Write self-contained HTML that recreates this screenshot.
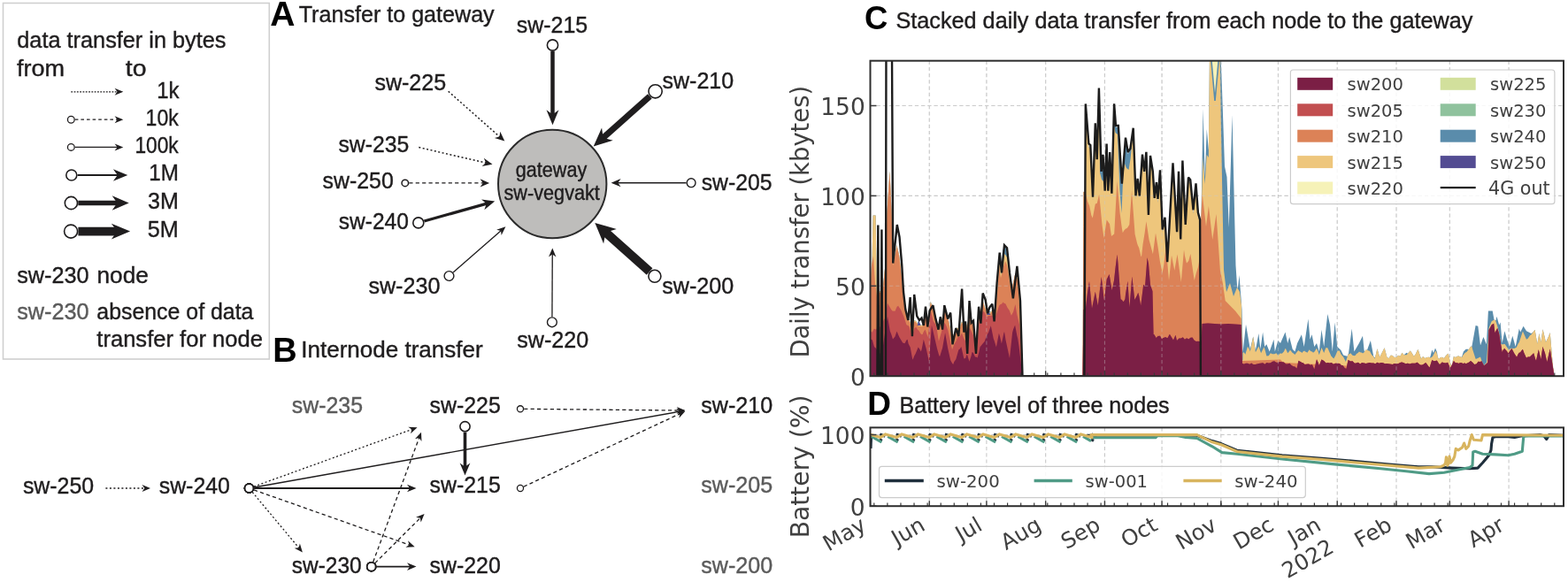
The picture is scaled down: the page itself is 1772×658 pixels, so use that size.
<!DOCTYPE html>
<html><head><meta charset="utf-8"><title>Figure</title>
<style>html,body{margin:0;padding:0;background:#fff;}svg{display:block;}</style>
</head><body>
<svg xmlns="http://www.w3.org/2000/svg" width="1772" height="658" viewBox="0 0 1772 658">
<rect width="1772" height="658" fill="#fff"/>
<rect x="3.5" y="3.5" width="300.8" height="402.5" fill="#fff" stroke="#cfcfcf" stroke-width="1.6"/>
<text x="19.3" y="54" font-size="25.5" fill="#1f1d1e" font-family="'Liberation Sans', Arial, sans-serif" stroke="#1f1d1e" stroke-width="0.4" textLength="236.2" lengthAdjust="spacingAndGlyphs">data transfer in bytes</text>
<text x="19" y="86.4" font-size="25.5" fill="#1f1d1e" font-family="'Liberation Sans', Arial, sans-serif" stroke="#1f1d1e" stroke-width="0.4" textLength="54.1" lengthAdjust="spacingAndGlyphs">from</text>
<text x="141.8" y="86.4" font-size="25.5" fill="#1f1d1e" font-family="'Liberation Sans', Arial, sans-serif" stroke="#1f1d1e" stroke-width="0.4" textLength="23.7" lengthAdjust="spacingAndGlyphs">to</text>
<line x1="80.3" y1="103.8" x2="133.01" y2="103.8" stroke="#1f1d1e" stroke-width="1.3" stroke-dasharray="1.8 1.5"/>
<polygon points="139.3,103.8 129.6,107.8 132.51,103.8 129.6,99.8" fill="#1f1d1e"/>
<text x="202.6" y="111.3" font-size="25.5" fill="#1f1d1e" font-family="'Liberation Sans', Arial, sans-serif" stroke="#1f1d1e" stroke-width="0.4" textLength="25.3" lengthAdjust="spacingAndGlyphs" text-anchor="end">1k</text>
<line x1="84.8" y1="135.2" x2="133.01" y2="135.2" stroke="#1f1d1e" stroke-width="1.3" stroke-dasharray="3.6 3"/>
<polygon points="139.3,135.2 129.6,139.2 132.51,135.2 129.6,131.2" fill="#1f1d1e"/>
<circle cx="80.3" cy="135.2" r="3.85" fill="#fff" stroke="#1f1d1e" stroke-width="1.3"/>
<text x="201.7" y="142.2" font-size="25.5" fill="#1f1d1e" font-family="'Liberation Sans', Arial, sans-serif" stroke="#1f1d1e" stroke-width="0.4" textLength="37.1" lengthAdjust="spacingAndGlyphs" text-anchor="end">10k</text>
<line x1="84.8" y1="166.4" x2="133.01" y2="166.4" stroke="#1f1d1e" stroke-width="1.3"/>
<polygon points="139.3,166.4 129.6,170.4 132.51,166.4 129.6,162.4" fill="#1f1d1e"/>
<circle cx="80.3" cy="166.4" r="3.85" fill="#fff" stroke="#1f1d1e" stroke-width="1.3"/>
<text x="201.7" y="173.4" font-size="25.5" fill="#1f1d1e" font-family="'Liberation Sans', Arial, sans-serif" stroke="#1f1d1e" stroke-width="0.4" textLength="49.3" lengthAdjust="spacingAndGlyphs" text-anchor="end">100k</text>
<line x1="87.6" y1="198" x2="133.32" y2="198" stroke="#1f1d1e" stroke-width="1.8"/>
<polygon points="144.3,198 127.9,204.8 132.82,198 127.9,191.2" fill="#1f1d1e"/>
<circle cx="80.8" cy="198" r="6" fill="#fff" stroke="#1f1d1e" stroke-width="1.6"/>
<text x="201.8" y="204.3" font-size="25.5" fill="#1f1d1e" font-family="'Liberation Sans', Arial, sans-serif" stroke="#1f1d1e" stroke-width="0.4" textLength="33.6" lengthAdjust="spacingAndGlyphs" text-anchor="end">1M</text>
<line x1="88.3" y1="229.5" x2="132.9" y2="229.5" stroke="#1f1d1e" stroke-width="5.5"/>
<polygon points="145.7,229.5 126.7,237.7 132.4,229.5 126.7,221.3" fill="#1f1d1e"/>
<circle cx="80.4" cy="229.5" r="7.1" fill="#fff" stroke="#1f1d1e" stroke-width="1.6"/>
<text x="201.8" y="235.8" font-size="25.5" fill="#1f1d1e" font-family="'Liberation Sans', Arial, sans-serif" stroke="#1f1d1e" stroke-width="0.4" textLength="34.8" lengthAdjust="spacingAndGlyphs" text-anchor="end">3M</text>
<line x1="88.4" y1="261.6" x2="132.76" y2="261.6" stroke="#1f1d1e" stroke-width="9.6"/>
<polygon points="147.1,261.6 125.9,270.5 132.26,261.6 125.9,252.7" fill="#1f1d1e"/>
<circle cx="80.1" cy="261.6" r="7.5" fill="#fff" stroke="#1f1d1e" stroke-width="1.6"/>
<text x="201.8" y="267.6" font-size="25.5" fill="#1f1d1e" font-family="'Liberation Sans', Arial, sans-serif" stroke="#1f1d1e" stroke-width="0.4" textLength="35" lengthAdjust="spacingAndGlyphs" text-anchor="end">5M</text>
<text x="19.2" y="319.8" font-size="25.5" fill="#1f1d1e" font-family="'Liberation Sans', Arial, sans-serif" stroke="#1f1d1e" stroke-width="0.4" textLength="81.4" lengthAdjust="spacingAndGlyphs">sw-230</text>
<text x="109.5" y="319.8" font-size="25.5" fill="#1f1d1e" font-family="'Liberation Sans', Arial, sans-serif" stroke="#1f1d1e" stroke-width="0.4" textLength="58.4" lengthAdjust="spacingAndGlyphs">node</text>
<text x="19.2" y="360.8" font-size="25.5" fill="#5b5b5b" font-family="'Liberation Sans', Arial, sans-serif" stroke="#5b5b5b" stroke-width="0.4" textLength="81.4" lengthAdjust="spacingAndGlyphs">sw-230</text>
<text x="109.3" y="360.8" font-size="25.5" fill="#1f1d1e" font-family="'Liberation Sans', Arial, sans-serif" stroke="#1f1d1e" stroke-width="0.4" textLength="177.1" lengthAdjust="spacingAndGlyphs">absence of data</text>
<text x="109.3" y="392.2" font-size="25.5" fill="#1f1d1e" font-family="'Liberation Sans', Arial, sans-serif" stroke="#1f1d1e" stroke-width="0.4" textLength="187.6" lengthAdjust="spacingAndGlyphs">transfer for node</text>
<text x="305.2" y="29.3" font-size="39" fill="#000" font-family="'Liberation Sans', Arial, sans-serif" font-weight="bold">A</text>
<text x="337.7" y="24.9" font-size="25.5" fill="#1f1d1e" font-family="'Liberation Sans', Arial, sans-serif" stroke="#1f1d1e" stroke-width="0.4" textLength="221" lengthAdjust="spacingAndGlyphs">Transfer to gateway</text>
<circle cx="624.2" cy="208" r="61.2" fill="#bebdbb" stroke="#2b2b2b" stroke-width="2"/>
<text x="623" y="199.6" font-size="23" fill="#1f1d1e" font-family="'Liberation Sans', Arial, sans-serif" stroke="#1f1d1e" stroke-width="0.4" textLength="80.4" lengthAdjust="spacingAndGlyphs" text-anchor="middle">gateway</text>
<text x="623.7" y="226.4" font-size="23" fill="#1f1d1e" font-family="'Liberation Sans', Arial, sans-serif" stroke="#1f1d1e" stroke-width="0.4" textLength="108.4" lengthAdjust="spacingAndGlyphs" text-anchor="middle">sw-vegvakt</text>
<text x="583.8" y="36.5" font-size="25.5" fill="#1f1d1e" font-family="'Liberation Sans', Arial, sans-serif" stroke="#1f1d1e" stroke-width="0.4" textLength="80.4" lengthAdjust="spacingAndGlyphs">sw-215</text>
<text x="748.5" y="100.3" font-size="25.5" fill="#1f1d1e" font-family="'Liberation Sans', Arial, sans-serif" stroke="#1f1d1e" stroke-width="0.4" textLength="80.7" lengthAdjust="spacingAndGlyphs">sw-210</text>
<text x="423.4" y="101.8" font-size="25.5" fill="#1f1d1e" font-family="'Liberation Sans', Arial, sans-serif" stroke="#1f1d1e" stroke-width="0.4" textLength="80.8" lengthAdjust="spacingAndGlyphs">sw-225</text>
<text x="382.4" y="171.7" font-size="25.5" fill="#1f1d1e" font-family="'Liberation Sans', Arial, sans-serif" stroke="#1f1d1e" stroke-width="0.4" textLength="79.8" lengthAdjust="spacingAndGlyphs">sw-235</text>
<text x="364.6" y="213" font-size="25.5" fill="#1f1d1e" font-family="'Liberation Sans', Arial, sans-serif" stroke="#1f1d1e" stroke-width="0.4" textLength="80.2" lengthAdjust="spacingAndGlyphs">sw-250</text>
<text x="382.8" y="259.2" font-size="25.5" fill="#1f1d1e" font-family="'Liberation Sans', Arial, sans-serif" stroke="#1f1d1e" stroke-width="0.4" textLength="79.1" lengthAdjust="spacingAndGlyphs">sw-240</text>
<text x="792.7" y="214.9" font-size="25.5" fill="#1f1d1e" font-family="'Liberation Sans', Arial, sans-serif" stroke="#1f1d1e" stroke-width="0.4" textLength="79.8" lengthAdjust="spacingAndGlyphs">sw-205</text>
<text x="416.4" y="331.8" font-size="25.5" fill="#1f1d1e" font-family="'Liberation Sans', Arial, sans-serif" stroke="#1f1d1e" stroke-width="0.4" textLength="81" lengthAdjust="spacingAndGlyphs">sw-230</text>
<text x="584.3" y="392.7" font-size="25.5" fill="#1f1d1e" font-family="'Liberation Sans', Arial, sans-serif" stroke="#1f1d1e" stroke-width="0.4" textLength="80.9" lengthAdjust="spacingAndGlyphs">sw-220</text>
<text x="748.2" y="331.8" font-size="25.5" fill="#1f1d1e" font-family="'Liberation Sans', Arial, sans-serif" stroke="#1f1d1e" stroke-width="0.4" textLength="81" lengthAdjust="spacingAndGlyphs">sw-200</text>
<line x1="624.5" y1="57.9" x2="624.5" y2="129.9" stroke="#1f1d1e" stroke-width="4.5"/>
<polygon points="624.5,141.3 617.5,124.3 624.5,129.4 631.5,124.3" fill="#1f1d1e"/>
<circle cx="624.5" cy="51" r="6.1" fill="#fff" stroke="#1f1d1e" stroke-width="1.6"/>
<line x1="734.33" y1="108.89" x2="681.3" y2="156.15" stroke="#1f1d1e" stroke-width="7"/>
<polygon points="670.7,165.6 680.06,144.54 681.67,155.82 692.7,158.72" fill="#1f1d1e"/>
<circle cx="740.6" cy="103.3" r="7.6" fill="#fff" stroke="#1f1d1e" stroke-width="1.6"/>
<line x1="506.7" y1="103.3" x2="564.91" y2="154.83" stroke="#1f1d1e" stroke-width="1.5" stroke-dasharray="2 2.5"/>
<polygon points="570.3,159.6 558.88,155.9 564.53,154.5 565.25,148.71" fill="#1f1d1e"/>
<line x1="473.3" y1="166.6" x2="549.48" y2="184.18" stroke="#1f1d1e" stroke-width="1.5" stroke-dasharray="2 2.5"/>
<polygon points="556.5,185.8 544.7,188 549,184.07 546.86,178.65" fill="#1f1d1e"/>
<line x1="462.3" y1="206.9" x2="546.25" y2="206.9" stroke="#1f1d1e" stroke-width="1.4" stroke-dasharray="4.2 3.2"/>
<polygon points="553.1,206.9 542.6,211.5 545.75,206.9 542.6,202.3" fill="#1f1d1e"/>
<circle cx="457.8" cy="206.9" r="3.75" fill="#fff" stroke="#1f1d1e" stroke-width="1.5"/>
<line x1="479.35" y1="250.06" x2="550.25" y2="230.12" stroke="#1f1d1e" stroke-width="3.2"/>
<polygon points="559.2,227.6 547.35,237.17 549.77,230.25 544.1,225.61" fill="#1f1d1e"/>
<circle cx="472.8" cy="251.9" r="6" fill="#fff" stroke="#1f1d1e" stroke-width="1.6"/>
<line x1="775.5" y1="206.7" x2="697.8" y2="206.7" stroke="#1f1d1e" stroke-width="1.6"/>
<polygon points="690.6,206.7 701.6,202.1 698.3,206.7 701.6,211.3" fill="#1f1d1e"/>
<circle cx="781.1" cy="206.7" r="4.9" fill="#fff" stroke="#1f1d1e" stroke-width="1.4"/>
<line x1="512.1" y1="307.99" x2="566.5" y2="260.57" stroke="#1f1d1e" stroke-width="1.3"/>
<polygon points="571.4,256.3 566.62,266.04 566.12,260.9 561.1,259.7" fill="#1f1d1e"/>
<circle cx="507.5" cy="312" r="5.4" fill="#fff" stroke="#1f1d1e" stroke-width="1.4"/>
<line x1="623.93" y1="358.2" x2="624.27" y2="287.1" stroke="#1f1d1e" stroke-width="1.3"/>
<polygon points="624.3,280.6 628.45,290.62 624.27,287.6 620.05,290.58" fill="#1f1d1e"/>
<circle cx="623.9" cy="364.3" r="5.4" fill="#fff" stroke="#1f1d1e" stroke-width="1.4"/>
<line x1="734.08" y1="307.1" x2="683.93" y2="262.29" stroke="#1f1d1e" stroke-width="10"/>
<polygon points="672.3,251.9 696.78,259.02 684.31,262.63 682.12,275.43" fill="#1f1d1e"/>
<circle cx="739.9" cy="312.3" r="7" fill="#fff" stroke="#1f1d1e" stroke-width="1.6"/>
<text x="308.3" y="408.9" font-size="38" fill="#000" font-family="'Liberation Sans', Arial, sans-serif" font-weight="bold">B</text>
<text x="340.3" y="403.5" font-size="25.5" fill="#1f1d1e" font-family="'Liberation Sans', Arial, sans-serif" stroke="#1f1d1e" stroke-width="0.4" textLength="205.4" lengthAdjust="spacingAndGlyphs">Internode transfer</text>
<text x="25.9" y="557.5" font-size="25.5" fill="#1f1d1e" font-family="'Liberation Sans', Arial, sans-serif" stroke="#1f1d1e" stroke-width="0.4" textLength="80.2" lengthAdjust="spacingAndGlyphs">sw-250</text>
<text x="179.7" y="557.5" font-size="25.5" fill="#1f1d1e" font-family="'Liberation Sans', Arial, sans-serif" stroke="#1f1d1e" stroke-width="0.4" textLength="80.2" lengthAdjust="spacingAndGlyphs">sw-240</text>
<text x="329.8" y="467" font-size="25.5" fill="#5b5b5b" font-family="'Liberation Sans', Arial, sans-serif" stroke="#5b5b5b" stroke-width="0.4" textLength="80.2" lengthAdjust="spacingAndGlyphs">sw-235</text>
<text x="329.8" y="647.9" font-size="25.5" fill="#1f1d1e" font-family="'Liberation Sans', Arial, sans-serif" stroke="#1f1d1e" stroke-width="0.4" textLength="78.9" lengthAdjust="spacingAndGlyphs">sw-230</text>
<text x="485.6" y="467" font-size="25.5" fill="#1f1d1e" font-family="'Liberation Sans', Arial, sans-serif" stroke="#1f1d1e" stroke-width="0.4" textLength="80.2" lengthAdjust="spacingAndGlyphs">sw-225</text>
<text x="485.6" y="557.4" font-size="25.5" fill="#1f1d1e" font-family="'Liberation Sans', Arial, sans-serif" stroke="#1f1d1e" stroke-width="0.4" textLength="80.2" lengthAdjust="spacingAndGlyphs">sw-215</text>
<text x="485.6" y="647.8" font-size="25.5" fill="#1f1d1e" font-family="'Liberation Sans', Arial, sans-serif" stroke="#1f1d1e" stroke-width="0.4" textLength="80.2" lengthAdjust="spacingAndGlyphs">sw-220</text>
<text x="792.3" y="467" font-size="25.5" fill="#1f1d1e" font-family="'Liberation Sans', Arial, sans-serif" stroke="#1f1d1e" stroke-width="0.4" textLength="80.9" lengthAdjust="spacingAndGlyphs">sw-210</text>
<text x="792.3" y="557.4" font-size="25.5" fill="#5b5b5b" font-family="'Liberation Sans', Arial, sans-serif" stroke="#5b5b5b" stroke-width="0.4" textLength="80.9" lengthAdjust="spacingAndGlyphs">sw-205</text>
<text x="792.3" y="647.8" font-size="25.5" fill="#5b5b5b" font-family="'Liberation Sans', Arial, sans-serif" stroke="#5b5b5b" stroke-width="0.4" textLength="80.9" lengthAdjust="spacingAndGlyphs">sw-200</text>
<line x1="119.4" y1="552" x2="163.85" y2="552" stroke="#1f1d1e" stroke-width="1.3" stroke-dasharray="2 2.5"/>
<polygon points="170,552 160.5,556 163.35,552 160.5,548" fill="#1f1d1e"/>
<line x1="286.95" y1="550.03" x2="465.82" y2="485.39" stroke="#1f1d1e" stroke-width="1.3" stroke-dasharray="2 2.5"/>
<polygon points="471.6,483.3 464.03,490.29 465.35,485.56 461.31,482.77" fill="#1f1d1e"/>
<circle cx="281.5" cy="552" r="4.9" fill="#fff" stroke="#1f1d1e" stroke-width="1.8"/>
<line x1="287.21" y1="550.98" x2="768.25" y2="465.18" stroke="#1f1d1e" stroke-width="1.4"/>
<polygon points="774.3,464.1 765.65,469.71 767.75,465.27 764.25,461.83" fill="#1f1d1e"/>
<circle cx="281.5" cy="552" r="4.9" fill="#fff" stroke="#1f1d1e" stroke-width="1.8"/>
<line x1="287.3" y1="552" x2="463.65" y2="552" stroke="#1f1d1e" stroke-width="1.8"/>
<polygon points="470.5,552 460,556.3 463.15,552 460,547.7" fill="#1f1d1e"/>
<circle cx="281.5" cy="552" r="4.9" fill="#fff" stroke="#1f1d1e" stroke-width="1.8"/>
<line x1="286.97" y1="553.93" x2="462.9" y2="616.15" stroke="#1f1d1e" stroke-width="1.3" stroke-dasharray="4.2 3.2"/>
<polygon points="468.7,618.2 458.41,618.8 462.43,615.98 461.08,611.26" fill="#1f1d1e"/>
<circle cx="281.5" cy="552" r="4.9" fill="#fff" stroke="#1f1d1e" stroke-width="1.8"/>
<line x1="285.22" y1="556.45" x2="337.96" y2="619.68" stroke="#1f1d1e" stroke-width="1.3" stroke-dasharray="2 2.5"/>
<polygon points="341.9,624.4 332.74,619.67 337.64,619.29 338.89,614.54" fill="#1f1d1e"/>
<circle cx="281.5" cy="552" r="4.9" fill="#fff" stroke="#1f1d1e" stroke-width="1.8"/>
<circle cx="281.5" cy="552" r="4.9" fill="#fff" stroke="#1f1d1e" stroke-width="1.8"/>
<line x1="421.71" y1="635.26" x2="473.86" y2="494.47" stroke="#1f1d1e" stroke-width="1.3" stroke-dasharray="4.2 3.2"/>
<polygon points="476,488.7 476.45,499 473.69,494.94 468.95,496.22" fill="#1f1d1e"/>
<circle cx="419.7" cy="640.7" r="4.9" fill="#fff" stroke="#1f1d1e" stroke-width="1.8"/>
<line x1="423.81" y1="636.61" x2="475.24" y2="585.34" stroke="#1f1d1e" stroke-width="1.3" stroke-dasharray="4.2 3.2"/>
<polygon points="479.6,581 475.69,590.54 474.89,585.69 470.05,584.87" fill="#1f1d1e"/>
<circle cx="419.7" cy="640.7" r="4.9" fill="#fff" stroke="#1f1d1e" stroke-width="1.8"/>
<line x1="425.5" y1="640.69" x2="463.65" y2="640.61" stroke="#1f1d1e" stroke-width="1.8"/>
<polygon points="470.5,640.6 460.01,644.92 463.15,640.61 459.99,636.32" fill="#1f1d1e"/>
<circle cx="419.7" cy="640.7" r="4.9" fill="#fff" stroke="#1f1d1e" stroke-width="1.8"/>
<circle cx="419.7" cy="640.7" r="4.9" fill="#fff" stroke="#1f1d1e" stroke-width="1.8"/>
<line x1="592.2" y1="462.34" x2="768.15" y2="464.04" stroke="#1f1d1e" stroke-width="1.3" stroke-dasharray="4.2 3.2"/>
<polygon points="774.3,464.1 764.76,468.01 767.65,464.04 764.84,460.01" fill="#1f1d1e"/>
<circle cx="588" cy="462.3" r="3.55" fill="#fff" stroke="#1f1d1e" stroke-width="1.3"/>
<line x1="591.81" y1="550.22" x2="768.73" y2="467.6" stroke="#1f1d1e" stroke-width="1.3" stroke-dasharray="4.2 3.2"/>
<polygon points="774.3,465 767.38,472.64 768.27,467.81 764,465.4" fill="#1f1d1e"/>
<circle cx="588" cy="552" r="3.55" fill="#fff" stroke="#1f1d1e" stroke-width="1.3"/>
<line x1="525.5" y1="488.6" x2="525.5" y2="528.2" stroke="#1f1d1e" stroke-width="3.6"/>
<polygon points="525.5,537.5 519.7,523.5 525.5,527.7 531.3,523.5" fill="#1f1d1e"/>
<circle cx="525.5" cy="482.2" r="5.6" fill="#fff" stroke="#1f1d1e" stroke-width="1.6"/>
<defs><clipPath id="clipC"><rect x="983.5" y="68.7" width="783.5" height="356.5"/></clipPath></defs>
<g clip-path="url(#clipC)">
<line x1="1050.27" y1="68.7" x2="1050.27" y2="425.2" stroke="#cdcdcd" stroke-width="1.1" stroke-dasharray="4.2 3"/>
<line x1="1114.89" y1="68.7" x2="1114.89" y2="425.2" stroke="#cdcdcd" stroke-width="1.1" stroke-dasharray="4.2 3"/>
<line x1="1181.67" y1="68.7" x2="1181.67" y2="425.2" stroke="#cdcdcd" stroke-width="1.1" stroke-dasharray="4.2 3"/>
<line x1="1248.44" y1="68.7" x2="1248.44" y2="425.2" stroke="#cdcdcd" stroke-width="1.1" stroke-dasharray="4.2 3"/>
<line x1="1313.06" y1="68.7" x2="1313.06" y2="425.2" stroke="#cdcdcd" stroke-width="1.1" stroke-dasharray="4.2 3"/>
<line x1="1379.84" y1="68.7" x2="1379.84" y2="425.2" stroke="#cdcdcd" stroke-width="1.1" stroke-dasharray="4.2 3"/>
<line x1="1444.46" y1="68.7" x2="1444.46" y2="425.2" stroke="#cdcdcd" stroke-width="1.1" stroke-dasharray="4.2 3"/>
<line x1="1511.23" y1="68.7" x2="1511.23" y2="425.2" stroke="#cdcdcd" stroke-width="1.1" stroke-dasharray="4.2 3"/>
<line x1="1578" y1="68.7" x2="1578" y2="425.2" stroke="#cdcdcd" stroke-width="1.1" stroke-dasharray="4.2 3"/>
<line x1="1638.32" y1="68.7" x2="1638.32" y2="425.2" stroke="#cdcdcd" stroke-width="1.1" stroke-dasharray="4.2 3"/>
<line x1="1705.09" y1="68.7" x2="1705.09" y2="425.2" stroke="#cdcdcd" stroke-width="1.1" stroke-dasharray="4.2 3"/>
<line x1="983.5" y1="323.3" x2="1767.0" y2="323.3" stroke="#cdcdcd" stroke-width="1.1" stroke-dasharray="4.2 3"/>
<line x1="983.5" y1="221.4" x2="1767.0" y2="221.4" stroke="#cdcdcd" stroke-width="1.1" stroke-dasharray="4.2 3"/>
<line x1="983.5" y1="119.5" x2="1767.0" y2="119.5" stroke="#cdcdcd" stroke-width="1.1" stroke-dasharray="4.2 3"/>
<path d="M983.5,425.2 L983.5,329.89 L985,299.7 L985.5,297.14 L986.6,243.6 L989.6,243.6 L991,333.36 L992.12,330.62 L995,328.91 L996.42,327.33 L998,322.9 L1000.5,298.51 L1002.5,238.82 L1005.5,193.34 L1007.5,238.28 L1009.5,299.06 L1013.4,277.08 L1016,287.49 L1018.5,307.62 L1021.3,337.98 L1024,354.52 L1024.43,355.65 L1026.58,359.08 L1028.73,364.42 L1030.4,367.42 L1030.89,366.17 L1033.04,362.96 L1033.4,361.92 L1035.2,363.08 L1036.5,365.15 L1037,365 L1038,362 L1040,366.8 L1040.5,367.29 L1041.66,367.81 L1042.6,367.78 L1045.6,354.43 L1048.6,366.76 L1051.7,340.77 L1056.74,355.02 L1058.89,364.2 L1060.8,369.64 L1063.2,363.97 L1063.8,363.44 L1067.6,348.41 L1069.66,353.03 L1071.4,359.04 L1076,381.47 L1078.28,377.21 L1080.5,370.41 L1083.6,371.18 L1084.74,369.61 L1086.9,363.61 L1089.05,366.53 L1091.2,370.25 L1093.35,365.41 L1095.7,357.07 L1097.66,361.52 L1100.3,368.78 L1103.3,394.84 L1106.4,356.24 L1108.43,350.15 L1110.9,340.49 L1112.74,346.54 L1115,351.28 L1115.5,351 L1116,350 L1119,352 L1119.5,352.72 L1120,351.87 L1121.36,350.76 L1123.51,353.19 L1124,354.94 L1124.6,355.2 L1127,328 L1129.7,292 L1131,303.3 L1131.5,305 L1133,284 L1135,278.5 L1137,281 L1139.5,295 L1140,304 L1143,326.36 L1143.5,326.67 L1147.4,308.72 L1148,310.83 L1148.5,309.25 L1149.4,304 L1152,330 L1154,360 L1154.5,401.27 L1155.5,425.2 L1223.5,425.2 L1224.5,216.52 L1224.75,217.08 L1226.3,217.03 L1226.9,122.65 L1230.5,166.58 L1232,167.76 L1232.5,172.35 L1235,226.7 L1237.8,143.2 L1239.5,179.97 L1239.83,179.53 L1241.98,106.4 L1244.5,192.5 L1244.7,194.99 L1246.5,176.8 L1247.7,199.16 L1248.5,195 L1249,211.38 L1250.6,166.5 L1252,210.39 L1252.5,215.19 L1254,180.61 L1254.5,182.35 L1256,214.13 L1256.5,218.85 L1258.5,140 L1259.2,120.69 L1259.5,122 L1261,143 L1261.37,144 L1263.52,144 L1264,147.2 L1267.83,208.48 L1268,208.33 L1270.5,176.62 L1271,165 L1271.4,165.21 L1272,157.6 L1274.7,174 L1277.4,170 L1279,158.7 L1279.3,158.58 L1280.5,150.11 L1280.75,150.07 L1283.5,225.3 L1285.5,206.92 L1285.8,207.75 L1287.5,222.67 L1288,222.38 L1291,178.6 L1293,196.05 L1293.5,194.81 L1295.4,175.9 L1297.98,244.45 L1300,180 L1302.9,199.38 L1304.5,224.73 L1305,225.46 L1306.6,212.44 L1307,211.19 L1308.5,229 L1311,196.4 L1313.5,258.44 L1314,261.93 L1316.5,249.7 L1318.5,287.18 L1319,293.73 L1319.5,294.99 L1325.5,188.2 L1330,264.41 L1332,197.8 L1334,267.44 L1334.5,262.28 L1336.5,187.69 L1339.5,253.51 L1340,253.05 L1343,204.6 L1345,207.05 L1345.37,209.06 L1348.5,241.5 L1351.5,211.4 L1353.99,244.64 L1356,252.13 L1356.5,272.81 L1357.5,240.61 L1359.6,122.8 L1361.7,200 L1363.8,146 L1365.8,169.64 L1365.9,168.14 L1367.2,40 L1378.5,40 L1381,100 L1384,188 L1386.5,200 L1388.8,257 L1392.5,130 L1396.5,300 L1398,322.5 L1398.5,325.83 L1399,325.25 L1400.5,311 L1403.5,350 L1404.6,398 L1408,366.7 L1412.8,394.7 L1416.2,380.43 L1418.9,396.1 L1422.4,376.9 L1424.4,394.7 L1427.1,375.6 L1429.2,392 L1431.3,389.2 L1434.7,397.5 L1439.5,383.8 L1440.8,397.5 L1444.2,385.1 L1447,387.9 L1452.5,375.6 L1455.2,387.9 L1457.2,381 L1460.7,394.7 L1463.4,397.5 L1466.1,387.9 L1470.9,378.3 L1473.7,392 L1478.4,360.5 L1480.5,383.8 L1482.6,378.3 L1485.3,392 L1488,387.9 L1490.8,397.5 L1493.5,372.8 L1496.2,392 L1500.3,355 L1503.1,367.4 L1505.8,397.5 L1508.5,364.6 L1511.3,392 L1515.4,396.1 L1518.1,401.6 L1522.5,402.64 L1523,402.04 L1523.6,400.14 L1524,399.84 L1527.7,371.5 L1530.4,397.5 L1535.9,387.9 L1540,379.7 L1541.5,395.34 L1542,397.73 L1543.54,395.55 L1545,395.71 L1548.9,385.1 L1552.3,402.9 L1554,404.42 L1556.4,394.36 L1559.2,403.87 L1564.6,393.26 L1567.4,403.85 L1569.39,405.22 L1571.54,401.79 L1572.8,401.7 L1573.7,402.1 L1575.85,404.11 L1578.3,403.78 L1580.16,401.79 L1582.31,402.81 L1584.47,398.83 L1586.62,401.16 L1589.6,398.8 L1590.93,399.77 L1593.7,396.49 L1595.24,398.45 L1597.8,402.81 L1599.54,400.73 L1601.7,396.14 L1602.6,395.01 L1606,405.51 L1608.16,402.98 L1610.31,404.96 L1612.47,403.99 L1614.62,403.75 L1616,404.12 L1616.5,403 L1618.3,395.4 L1620,399 L1622,393.5 L1624,398 L1624.5,402.02 L1625.39,404.95 L1626.5,405.79 L1627.55,404.21 L1629.7,403.63 L1631.85,405.04 L1634.01,401.98 L1636.16,400.07 L1636.8,399.87 L1640,414.18 L1640.5,413.39 L1641,411.46 L1642.9,402.64 L1644.78,403.96 L1646.93,402.77 L1648.4,402.56 L1651.24,403.76 L1652,403.56 L1653.9,397.5 L1656.6,394.7 L1659.3,394.7 L1659.5,394.99 L1659.86,394.95 L1662.01,391.63 L1663,391.77 L1663.4,391.52 L1667.6,368 L1670.3,368.7 L1673,390.6 L1676.4,381 L1679.9,389.2 L1681.9,351.6 L1686.7,351.6 L1688.5,361.41 L1690.5,362.37 L1691.5,357.8 L1694.2,367.4 L1695.6,364.6 L1697.6,387.9 L1700.4,374.2 L1703.1,383.8 L1705.9,392 L1709.3,379.7 L1712.7,392 L1716.8,371.5 L1718.2,375.6 L1721.6,368.7 L1725,374.2 L1730.5,376.9 L1732.5,375.49 L1734.6,372.75 L1737.3,388.66 L1739.4,377.09 L1741.4,387.09 L1743.5,372.29 L1746.02,382.44 L1746.9,386.9 L1750.32,379.65 L1751.7,376.04 L1754.63,410.11 L1755.8,420.75 L1756.5,425.2 L1758.94,425.2 L1758.94,425.2 Z" fill="#5a8cab"/>
<path d="M983.5,425.2 L983.5,329.89 L985,299.7 L985.5,297.14 L986.6,243.6 L989.6,243.6 L991,333.36 L992.12,330.62 L995,328.91 L996.42,327.33 L998,322.9 L1000.5,298.51 L1002.5,238.82 L1005.5,193.34 L1007.5,238.28 L1009.5,299.06 L1013.4,277.08 L1016,287.49 L1018.5,307.62 L1021.3,337.98 L1024,354.52 L1024.43,355.65 L1026.58,359.08 L1028.73,364.42 L1030.4,367.42 L1030.89,366.17 L1033.04,362.96 L1033.4,361.92 L1035.2,363.08 L1038,367.22 L1039.5,367.27 L1040,367.06 L1041.66,367.81 L1042.6,367.78 L1045.6,354.43 L1048.6,366.76 L1051.7,340.77 L1056.74,355.02 L1058.89,364.2 L1060.8,369.64 L1063.2,363.97 L1063.8,363.44 L1067.6,348.41 L1069.66,353.03 L1071.4,359.04 L1076,381.47 L1078.28,377.21 L1080.5,370.41 L1083.6,371.18 L1084.74,369.61 L1086.9,363.61 L1089.05,366.53 L1091.2,370.25 L1093.35,365.41 L1095.7,357.07 L1097.66,361.52 L1100.3,368.78 L1103.3,394.84 L1106.4,356.24 L1108.43,350.15 L1110.9,340.49 L1112.74,346.54 L1114.89,350.93 L1115.5,352.89 L1119.2,353.23 L1120,351.87 L1121.36,350.76 L1123.51,353.19 L1124,354.94 L1124.6,355.2 L1127,328 L1129.7,292 L1131.9,310.59 L1133.5,292 L1135,287 L1137,289 L1138.5,292 L1143,326.36 L1143.5,326.67 L1147.4,308.72 L1148,310.83 L1148.5,309.25 L1149.4,304 L1152,330 L1154,360 L1154.5,401.27 L1155.5,425.2 L1223.5,425.2 L1224.5,216.52 L1224.75,217.08 L1226.3,217.03 L1226.9,122.65 L1230.5,166.58 L1232,167.76 L1232.5,172.35 L1235,226.7 L1237.8,143.2 L1239.5,179.97 L1239.83,179.53 L1241.98,106.4 L1242.5,124.58 L1243,195 L1245,203 L1247,205 L1248.5,195 L1249,211.38 L1250.6,166.5 L1252,210.39 L1252.5,215.19 L1254,180.61 L1254.5,182.35 L1256,214.13 L1256.5,218.85 L1258.5,140 L1260.5,150 L1263,152 L1265.5,215 L1267.5,241 L1269.2,200 L1271,185 L1273,190 L1275.5,192 L1277.5,180 L1279,165 L1279.3,158.58 L1280.5,150.11 L1280.75,150.07 L1283.5,225.3 L1285.5,206.92 L1285.8,207.75 L1287.5,222.67 L1288,222.38 L1291,178.6 L1293,196.05 L1293.5,194.81 L1295.4,175.9 L1297.98,244.45 L1300,180 L1302.9,199.38 L1304.5,224.73 L1305,225.46 L1306.6,212.44 L1307,211.19 L1308.5,229 L1311,196.4 L1313.5,258.44 L1314,261.93 L1316.5,249.7 L1318.5,287.18 L1319,293.73 L1319.5,294.99 L1325.5,188.2 L1330,264.41 L1332,197.8 L1334,267.44 L1334.5,262.28 L1336.5,187.69 L1339.5,253.51 L1340,253.05 L1343,204.6 L1345,207.05 L1345.37,209.06 L1348.5,241.5 L1351.5,211.4 L1353.99,244.64 L1356,252.13 L1356.5,272.81 L1359.5,178 L1361.6,208 L1363.7,175 L1365.8,178 L1367.2,40 L1378.3,40 L1380,150 L1383,305 L1386,330 L1390,320 L1394,335 L1398,325 L1401,330 L1403,345 L1404,408 L1404.5,406.48 L1404.6,398.8 L1405,399.01 L1405.68,397.97 L1407.3,400.69 L1410,391.67 L1412.15,395.35 L1412.8,397.55 L1416.2,380.43 L1418.9,398.21 L1422.4,391.55 L1425.1,399.2 L1428.5,392.2 L1429.38,394.68 L1431.3,402.29 L1431.53,402.46 L1433.69,402.28 L1435.84,399.35 L1438,400.3 L1440.15,400.28 L1442.3,399.32 L1444.2,401.69 L1444.46,401.64 L1446.61,399.61 L1448.76,399.72 L1449.7,398.87 L1450.92,397.46 L1452.5,393.88 L1453.07,394.32 L1455.2,399.24 L1457.38,396.87 L1457.9,395.6 L1460.7,398.95 L1461.69,399.39 L1463.4,401 L1466,397.56 L1467.5,395.97 L1468.15,397.03 L1470.3,397.91 L1471.6,399.11 L1472.46,397.45 L1474.3,396.42 L1474.61,397.17 L1476.77,398.28 L1477.1,399.02 L1479.8,395.29 L1481.07,397.12 L1483.23,397.8 L1483.9,398.67 L1485.38,397.64 L1488,393.64 L1489.69,397.77 L1490.8,401.24 L1493.5,392.98 L1496.2,399.03 L1498.31,393.17 L1500.3,393.14 L1504.4,402.51 L1507.2,405.45 L1509.08,402.19 L1511.3,396.99 L1513.38,396.37 L1514,397.02 L1515.54,400.7 L1518.1,403.5 L1520.9,408.93 L1523.6,400.14 L1524.15,400.64 L1526.31,399.16 L1528.46,401.79 L1530.62,402.33 L1531.8,401.79 L1532.77,400.13 L1534.92,398.67 L1535.9,397.54 L1537.08,398.14 L1539.23,398.72 L1540,399.49 L1541.39,398.59 L1543.54,395.55 L1545.5,395.86 L1545.69,396.33 L1547.85,396.85 L1550,401.03 L1552.16,402.99 L1553.7,405.45 L1556.4,394.36 L1559.2,403.87 L1564.6,393.26 L1567.4,403.85 L1569.39,405.22 L1571.54,401.79 L1572.8,401.7 L1573.7,402.1 L1575.85,404.11 L1578.3,403.78 L1580.16,401.79 L1582.31,402.81 L1584.47,398.83 L1586.62,401.16 L1589.6,401.27 L1593.7,396.49 L1595.24,398.45 L1597.8,402.81 L1599.54,400.73 L1601.7,396.14 L1602.6,395.01 L1606,405.51 L1608.16,402.98 L1610.31,404.96 L1612.47,403.99 L1614.62,403.75 L1616.9,404.41 L1618.93,403.04 L1622.4,396.57 L1623.24,397.88 L1625.39,404.95 L1626.5,405.79 L1627.55,404.21 L1629.7,403.63 L1631.85,405.04 L1634.01,401.98 L1636.16,400.07 L1636.8,399.87 L1640,414.18 L1640.5,413.39 L1641,411.46 L1642.9,402.64 L1644.78,403.96 L1646.93,402.77 L1648.4,402.56 L1651.24,403.76 L1652.5,403.43 L1653.39,401.55 L1655.55,399.12 L1657.7,397.69 L1659.3,395.31 L1659.86,394.95 L1662.01,391.63 L1663.4,391.83 L1664.16,394.91 L1667.6,405.81 L1668.47,405.72 L1673,403.44 L1674.93,409.49 L1677.1,413.54 L1679.24,410.33 L1679.9,410.76 L1682.6,370.67 L1685.7,363.33 L1687.86,361.91 L1688.1,361.21 L1690.01,362.17 L1692.2,368.45 L1694.32,377.48 L1696.3,389.09 L1696.5,389.3 L1698.63,389.36 L1700.4,388.96 L1700.78,389.13 L1705.09,395.45 L1705.9,395.28 L1707.24,393.65 L1711.3,393.99 L1713.71,392.74 L1715.86,388.25 L1716.8,387.09 L1720.9,374.53 L1725,383.64 L1726.63,382.75 L1728.78,379.48 L1730.5,378.13 L1734.6,372.75 L1737.3,388.66 L1739.4,377.09 L1741.4,387.09 L1743.5,372.29 L1746.02,382.44 L1746.9,386.9 L1750.32,379.65 L1751.7,376.04 L1754.63,410.11 L1755.8,420.75 L1756.5,425.2 L1758.94,425.2 L1758.94,425.2 Z" fill="#eec67c"/>
<path d="M983.5,425.2 L983.5,329.89 L985,299.7 L987,289.18 L989,320.12 L991,334.86 L992.12,332.12 L995,330.41 L996.42,328.83 L998,324.4 L1000.5,300.01 L1002.5,240.32 L1005.5,194.84 L1007.5,239.78 L1009.5,300.56 L1013.4,278.58 L1016,288.99 L1018.5,309.12 L1021.3,339.48 L1024,356.02 L1024.43,357.15 L1026.58,360.58 L1028.73,365.92 L1030.4,368.92 L1030.89,367.67 L1033.04,364.46 L1033.4,363.42 L1035.2,364.58 L1038,368.72 L1039.5,368.77 L1040,368.56 L1041.66,369.31 L1042.6,369.28 L1045.6,355.93 L1048.6,368.26 L1051.7,342.27 L1056.74,356.52 L1058.89,365.7 L1060.8,371.14 L1063.2,365.47 L1063.8,364.94 L1067.6,349.91 L1069.66,354.53 L1071.4,360.54 L1076,382.97 L1078.28,378.71 L1080.5,371.91 L1083.6,372.68 L1084.74,371.11 L1086.9,365.11 L1089.05,368.03 L1091.2,371.75 L1093.35,366.91 L1095.7,358.57 L1097.66,363.02 L1100.3,370.28 L1103.3,396.34 L1106.4,357.74 L1108.43,351.65 L1110.59,342.82 L1110.9,341.99 L1112.74,348.04 L1114.89,352.43 L1115.5,354.39 L1119.2,354.73 L1120,353.37 L1121.36,352.26 L1123.51,354.69 L1124.6,355.24 L1127,332.47 L1129.2,302.18 L1131,314.35 L1133.7,301.49 L1134.28,300.49 L1136,295.39 L1136.43,295.62 L1138.3,300.38 L1140.74,316.95 L1142.9,329.21 L1145.05,320.13 L1147.4,308.72 L1150,317.87 L1152,345.47 L1155.5,425.2 L1223.5,425.2 L1224.5,216.52 L1224.75,217.08 L1226.3,217.03 L1226.9,218.49 L1229.06,227.69 L1231.21,232.8 L1233.36,243.55 L1234.8,246.57 L1237.67,231.28 L1238,230.46 L1239.83,229.71 L1241.98,220.22 L1242.2,220.06 L1245.4,253.35 L1247.5,269.36 L1250.7,248.57 L1254,253.23 L1256,267 L1259.2,264.55 L1262.4,204.86 L1265.6,240.74 L1267.83,257.79 L1268.8,263.35 L1269.98,260.95 L1272.14,258.44 L1273,258.47 L1274.29,257.3 L1276.3,253.93 L1279,215.19 L1282.6,264.84 L1285.06,275.01 L1285.8,277.27 L1287.21,280.32 L1289.37,289.41 L1290,290.28 L1291.52,276.38 L1293.68,262.95 L1295.4,250.3 L1298.6,271.35 L1302.9,287.32 L1306,263.48 L1308.75,280.42 L1310.91,295.83 L1313.06,305.9 L1313.5,309.23 L1315.22,299.83 L1317.7,279.35 L1321,317.12 L1324,288.82 L1327.3,305.77 L1330.5,287.51 L1334.8,319.04 L1338,282.25 L1338.91,288.9 L1341,297.78 L1341.06,297.45 L1343.22,294.9 L1345.4,286.92 L1349.7,317.12 L1351.83,308.76 L1353.99,302.08 L1356,290.11 L1357.2,250 L1358.7,219 L1363,256 L1365.9,233 L1370.2,271 L1374.5,242 L1378.9,305.5 L1381.8,320 L1384.7,340 L1396.2,351.7 L1402.6,360 L1404,408 L1447,406.5 L1449.5,409.34 L1450.92,409.56 L1451.5,410.07 L1466.5,410.82 L1467,409.8 L1467.5,407.68 L1468.15,408.35 L1470.3,409.21 L1471.6,410.13 L1472.46,410.09 L1473.5,411.17 L1486.5,411.81 L1488,406.13 L1490.5,412.01 L1491,412.03 L1491.5,411.55 L1493.5,406.52 L1496.15,408.12 L1498.31,410.25 L1499,410.46 L1500.46,410.05 L1502.61,410.52 L1504.77,410.01 L1506.92,411.84 L1509.08,410.73 L1513.38,410.77 L1514,410.89 L1515.54,412.64 L1518,413.37 L1522,413.57 L1523.6,407.05 L1526.31,408.41 L1528.46,408.37 L1530.62,410.38 L1531.8,410.66 L1534.92,409.87 L1537.08,411.52 L1539.23,410.04 L1543.54,411.06 L1547.85,410.12 L1550,410.54 L1552.16,410.62 L1554.31,411.13 L1556.46,409.64 L1558.62,410.63 L1560.77,410.02 L1562.93,410.18 L1565.08,411.37 L1567.23,410.89 L1573.7,411.96 L1575.85,410.96 L1578,411.35 L1580,411.13 L1582.31,410 L1584.1,409.46 L1586.62,410.22 L1588.2,411.13 L1590.93,410.75 L1593.08,411.54 L1595.24,410.78 L1599.54,410.87 L1600.5,410.11 L1601.7,409.86 L1604.6,412.22 L1606.01,412.63 L1608.16,412.19 L1610.31,410.43 L1611.5,410.28 L1614.62,414.62 L1615.6,415.4 L1618.3,407.02 L1618.93,407.46 L1621,408.18 L1623.24,407.79 L1623.8,407.44 L1626.5,411.85 L1627.55,411.72 L1629.7,409.58 L1631.85,410.31 L1634,410.49 L1636.1,409.75 L1638.8,416.08 L1640.47,413.46 L1642.9,407.99 L1644.78,410.32 L1646.93,410.16 L1648.4,411.01 L1649.09,410.56 L1651.1,410.11 L1653.39,410.96 L1655.55,410.54 L1656.6,411.35 L1659.86,409.82 L1662.1,408.03 L1664.16,409.79 L1666.2,412.09 L1668.47,411.49 L1670.63,408.63 L1672.78,409.07 L1674.4,408.33 L1677.1,413.54 L1681.2,410.01 L1682.6,372.94 L1685.7,367.22 L1687.86,366.02 L1688.1,365.62 L1689.4,376.36 L1692.2,371.11 L1694.2,377.54 L1697.6,398.02 L1698.63,395.8 L1700.4,393.73 L1700.78,394.64 L1702.94,397.11 L1704.5,399.47 L1707.24,395.48 L1708.6,393.91 L1709.4,395.89 L1711.55,399.95 L1714.1,403.72 L1715.86,399.94 L1716.8,398.77 L1718.01,398.51 L1720.17,395.59 L1720.9,394.95 L1722.32,398.95 L1725,404.78 L1726.63,403.61 L1728.78,403.53 L1733.2,399.35 L1735.25,406.14 L1736,407.73 L1738.7,395.22 L1741.4,406.31 L1743.5,391.8 L1743.86,393.36 L1746.02,399.33 L1748.3,409.14 L1751.7,394.44 L1756.5,425.2 L1758.94,425.2 L1758.94,425.2 Z" fill="#dc8257"/>
<path d="M983.5,425.2 L983.5,373.91 L985.65,375.85 L987.81,371.52 L989.96,372.84 L992.12,369.49 L994.27,369.28 L995,370.01 L996.42,369.15 L998.58,361.68 L1000,359.98 L1003,342.84 L1007.19,349.9 L1009.1,351.91 L1009.35,351.51 L1011.5,351.84 L1013.66,346.8 L1015.2,345.77 L1015.81,347.03 L1017.96,350.01 L1021.3,357.38 L1024.43,367.24 L1026.58,368.31 L1027.4,369.11 L1028.73,373.33 L1030.4,379.9 L1030.89,378.24 L1033.04,373.28 L1033.4,371.35 L1035.2,369.64 L1037.35,373.16 L1038,373.19 L1039.5,375.51 L1040,376.77 L1041.66,378.28 L1042.6,378.08 L1043.81,374.93 L1045.6,372.53 L1048.6,381.13 L1051.7,351.27 L1054.7,363.23 L1056.74,365.9 L1058,368.39 L1058.89,372.71 L1060.8,385.38 L1061.04,385.14 L1063.8,375.63 L1065.35,369.47 L1067.6,364.72 L1069.66,368.74 L1071.4,373.8 L1076,395.28 L1078.28,389.35 L1080.43,385.7 L1082.58,380.53 L1084.74,381.02 L1086.89,376.4 L1089.05,382.26 L1091.2,385.81 L1093.35,379.15 L1095.7,370.25 L1100.3,379.75 L1103.3,401.54 L1106.4,365.94 L1108.43,357.07 L1110.59,352.71 L1110.9,351.38 L1112.74,353.23 L1114.89,357.74 L1115.5,358.26 L1117.05,356.88 L1119.2,356.98 L1120,356.63 L1121.36,356.64 L1123.51,358.9 L1124.6,359.22 L1129.2,345.57 L1129.97,344.48 L1132.13,343.43 L1133.7,341.5 L1134.28,342.57 L1136.43,343.45 L1138.59,348.09 L1140.74,350.91 L1142.9,356.66 L1145.05,352.64 L1147.4,344.01 L1149.36,355.86 L1152,366.94 L1155.5,425.2 L1223.5,425.2 L1224.5,350.18 L1227,347.6 L1229,330.87 L1231,318.07 L1234,348.82 L1237.8,329.85 L1240.8,345.57 L1244.7,313.11 L1246.29,325.8 L1247.7,339.76 L1248.44,335.24 L1250.7,315.81 L1253.6,310.12 L1256.6,328.36 L1259,317.11 L1260.6,302.27 L1262.5,287.63 L1263.5,297.5 L1266.5,338.16 L1267.83,338.93 L1269.4,340.96 L1269.98,340.74 L1271.4,338.21 L1272.14,331.72 L1274.4,317.81 L1276.4,347.6 L1279.3,312.41 L1282.3,339.1 L1285.06,333.66 L1286.2,330.68 L1287.21,334.16 L1289.2,345.46 L1292.2,321.64 L1293.68,323.12 L1294,323.84 L1296.5,291.3 L1298,297.93 L1300,322.01 L1302.5,329.18 L1303.6,377.98 L1304.45,378.18 L1306.6,381.94 L1308.75,379.69 L1310,379.91 L1310.91,379.39 L1313.06,383.49 L1314,382.33 L1317.37,380.92 L1318,381.81 L1319.52,382.07 L1321.68,377.88 L1322,378.01 L1325.99,384.39 L1328.5,378.68 L1330,385.1 L1332.45,382.4 L1334.6,382.57 L1336.76,381.21 L1338.91,383.87 L1341.06,382.32 L1342,382.7 L1343.22,383.6 L1345.37,381.71 L1347.5,381.54 L1349.68,384.84 L1351.83,386.06 L1353.99,385.76 L1356.5,386.25 L1357,384.86 L1357.5,385 L1358.5,366 L1365,365.5 L1380,366.5 L1388,366 L1402.6,367 L1404,411 L1405,411.06 L1405.5,411.76 L1407.84,410.7 L1410,410.84 L1412.15,411.66 L1414.3,410.6 L1415.5,411.59 L1416.45,411.97 L1418.61,412.12 L1422.4,411.07 L1427.22,410.22 L1429.38,411.69 L1431.53,410.09 L1433.69,410.52 L1435.84,410.36 L1437.99,408.63 L1440.1,408.18 L1442.3,409.83 L1444.46,409.78 L1446.61,408.99 L1450.92,409.56 L1453.07,411.51 L1455.23,411.59 L1457.38,410.64 L1459.53,413.02 L1461.69,414.25 L1463.4,414.39 L1465.5,416.43 L1467.5,407.68 L1468.15,408.35 L1470.3,409.21 L1471.6,410.13 L1472.46,410.09 L1474.61,412.33 L1476.77,411.76 L1478.92,411.62 L1481.07,412.65 L1482.6,411.97 L1483.23,412.78 L1485.3,417.38 L1488,406.13 L1489.69,410.01 L1490.8,413.31 L1493.5,406.52 L1496.15,408.12 L1498.31,410.25 L1499,410.46 L1500.46,410.05 L1502.61,410.52 L1504.77,410.01 L1506.92,411.84 L1509.08,410.73 L1514,410.89 L1515.54,412.64 L1517.69,413.33 L1519.85,416.18 L1521.5,416.82 L1523.6,407.05 L1526.31,408.41 L1528.46,408.37 L1530.62,410.38 L1531.8,410.66 L1534.92,409.87 L1537.08,411.52 L1539.23,410.04 L1543.54,411.06 L1547.85,410.12 L1550,410.54 L1552.16,410.62 L1554.31,411.13 L1556.46,409.64 L1558.62,410.63 L1560.77,410.02 L1562.93,410.18 L1565.08,411.37 L1567.23,410.89 L1573.7,411.96 L1575.85,410.96 L1578,411.35 L1580,411.13 L1582.31,410 L1584.1,409.46 L1586.62,410.22 L1588.2,411.13 L1590.93,410.75 L1593.08,411.54 L1595.24,410.78 L1599.54,410.87 L1600.5,410.11 L1601.7,409.86 L1604.6,412.22 L1606.01,412.63 L1608.16,412.19 L1610.31,410.43 L1611.5,410.28 L1614.62,414.62 L1615.6,415.4 L1618.3,407.02 L1618.93,407.46 L1621,408.18 L1623.24,407.79 L1623.8,407.44 L1626.5,411.85 L1627.55,411.72 L1629.7,409.58 L1631.85,410.31 L1634,410.49 L1636.1,409.75 L1638.8,416.08 L1640.47,413.46 L1642.9,407.99 L1644.78,410.32 L1646.93,410.16 L1648.4,411.01 L1649.09,410.56 L1651.1,410.11 L1653.39,410.96 L1655.55,410.54 L1656.6,411.35 L1659.86,409.82 L1662.1,408.03 L1664.16,409.79 L1666.2,412.09 L1668.47,411.49 L1670.63,408.63 L1672.78,409.07 L1674.4,408.33 L1677.1,413.54 L1681.2,410.01 L1682.6,372.94 L1685.7,367.22 L1687.86,366.02 L1688.1,365.62 L1689.4,376.36 L1692.2,371.11 L1694.2,377.54 L1697.6,398.02 L1698.63,395.8 L1700.4,393.73 L1700.78,394.64 L1702.94,397.11 L1704.5,399.47 L1707.24,395.48 L1708.6,393.91 L1709.4,395.89 L1711.55,399.95 L1714.1,403.72 L1715.86,399.94 L1716.8,398.77 L1718.01,398.51 L1720.17,395.59 L1720.9,394.95 L1722.32,398.95 L1725,404.78 L1726.63,403.61 L1728.78,403.53 L1733.2,399.35 L1735.25,406.14 L1736,407.73 L1738.7,395.22 L1741.4,406.31 L1743.5,391.8 L1743.86,393.36 L1746.02,399.33 L1748.3,409.14 L1751.7,394.44 L1756.5,425.2 L1758.94,425.2 L1758.94,425.2 Z" fill="#c24f50"/>
<path d="M983.5,425.2 L983.5,383.3 L985.65,384.32 L986,384.92 L987.81,391.43 L989,393.32 L989.96,393.57 L992.12,398.26 L995,400.05 L996.42,394.5 L998,390.55 L1000.73,371.59 L1003,357.66 L1005.8,374.31 L1007.19,377.84 L1009,383.48 L1011.5,380.47 L1013.4,374.83 L1013.66,375.02 L1016.4,381.34 L1020.12,387.41 L1022.5,388.23 L1024.43,384.48 L1025.6,383.85 L1026.58,388.5 L1028.73,392.71 L1030.89,404.59 L1031.6,406.68 L1033.04,402.84 L1034.7,399.71 L1037.7,392.6 L1039.5,394.97 L1040.8,397.46 L1041.66,394.82 L1043.8,383.74 L1046.8,394.42 L1049.9,408.67 L1052.9,367.77 L1059,393.92 L1061.04,401.16 L1062,403.27 L1065.1,393.31 L1068.1,376.2 L1071.1,393.4 L1073.97,406.29 L1074.2,407.14 L1076.12,410.64 L1077.2,411.89 L1078.28,408.89 L1080.3,406.22 L1083.3,395.57 L1084.74,394.58 L1086.3,392.08 L1089.4,405.61 L1091.2,404.92 L1092.4,401 L1093.35,401.93 L1095.5,408.67 L1097.66,402.11 L1098.5,398.09 L1099.82,398.81 L1101.97,403.41 L1104.12,403.7 L1104.6,404.71 L1106.28,398.27 L1107.6,391.91 L1108.43,391.25 L1110.59,388.4 L1112.74,386.1 L1114.89,379.48 L1117.05,375.88 L1119.8,368.36 L1122.8,382.99 L1123.51,384.66 L1125.9,392.41 L1128.9,376.83 L1129.97,380.18 L1131.9,388.58 L1134.28,377.03 L1135,375.1 L1136.5,384.3 L1141,404.89 L1144.1,376.09 L1145.05,372.61 L1147.1,367.52 L1149.36,379.61 L1150.2,382.66 L1151.51,391.14 L1155.5,425.2 L1223.5,425.2 L1224.5,350.18 L1227,347.6 L1229,330.87 L1231,318.07 L1234,348.82 L1237.8,329.85 L1240.8,345.57 L1244.7,313.11 L1246.29,325.8 L1247.7,339.76 L1248.44,335.24 L1250.7,315.81 L1253.6,310.12 L1256.6,328.36 L1259,317.11 L1260.6,302.27 L1262.5,287.63 L1263.5,297.5 L1266.5,338.16 L1267.83,338.93 L1269.4,340.96 L1269.98,340.74 L1271.4,338.21 L1272.14,331.72 L1274.4,317.81 L1276.4,347.6 L1279.3,312.41 L1282.3,339.1 L1285.06,333.66 L1286.2,330.68 L1287.21,334.16 L1289.2,345.46 L1292.2,321.64 L1293.68,323.12 L1294,323.84 L1296.5,291.3 L1298,297.93 L1300,322.01 L1302.5,329.18 L1303.6,377.98 L1304.45,378.18 L1306.6,381.94 L1308.75,379.69 L1310,379.91 L1310.91,379.39 L1313.06,383.49 L1314,382.33 L1317.37,380.92 L1318,381.81 L1319.52,382.07 L1321.68,377.88 L1322,378.01 L1325.99,384.39 L1328.5,378.68 L1330,385.1 L1332.45,382.4 L1334.6,382.57 L1336.76,381.21 L1338.91,383.87 L1341.06,382.32 L1342,382.7 L1343.22,383.6 L1345.37,381.71 L1347.5,381.54 L1349.68,384.84 L1351.83,386.06 L1353.99,385.76 L1356.5,386.25 L1357,384.86 L1357.5,385 L1358.5,366 L1365,365.5 L1380,366.5 L1388,366 L1402.6,367 L1404,411 L1405,411.06 L1405.5,411.76 L1407.84,410.7 L1410,410.84 L1412.15,411.66 L1414.3,410.6 L1415.5,411.59 L1416.45,411.97 L1418.61,412.12 L1422.4,411.07 L1427.22,410.22 L1429.38,411.69 L1431.53,410.09 L1433.69,410.52 L1435.84,410.36 L1437.99,408.63 L1440.1,408.18 L1442.3,409.83 L1444.46,409.78 L1446.61,408.99 L1450.92,409.56 L1453.07,411.51 L1455.23,411.59 L1457.38,410.64 L1459.53,413.02 L1461.69,414.25 L1463.4,414.39 L1465.5,416.43 L1467.5,407.68 L1468.15,408.35 L1470.3,409.21 L1471.6,410.13 L1472.46,410.09 L1474.61,412.33 L1476.77,411.76 L1478.92,411.62 L1481.07,412.65 L1482.6,411.97 L1483.23,412.78 L1485.3,417.38 L1488,406.13 L1489.69,410.01 L1490.8,413.31 L1493.5,406.52 L1496.15,408.12 L1498.31,410.25 L1499,410.46 L1500.46,410.05 L1502.61,410.52 L1504.77,410.01 L1506.92,411.84 L1509.08,410.73 L1514,410.89 L1515.54,412.64 L1517.69,413.33 L1519.85,416.18 L1521.5,416.82 L1523.6,407.05 L1526.31,408.41 L1528.46,408.37 L1530.62,410.38 L1531.8,410.66 L1534.92,409.87 L1537.08,411.52 L1539.23,410.04 L1543.54,411.06 L1547.85,410.12 L1550,410.54 L1552.16,410.62 L1554.31,411.13 L1556.46,409.64 L1558.62,410.63 L1560.77,410.02 L1562.93,410.18 L1565.08,411.37 L1567.23,410.89 L1573.7,411.96 L1575.85,410.96 L1578,411.35 L1580,411.13 L1582.31,410 L1584.1,409.46 L1586.62,410.22 L1588.2,411.13 L1590.93,410.75 L1593.08,411.54 L1595.24,410.78 L1599.54,410.87 L1600.5,410.11 L1601.7,409.86 L1604.6,412.22 L1606.01,412.63 L1608.16,412.19 L1610.31,410.43 L1611.5,410.28 L1614.62,414.62 L1615.6,415.4 L1618.3,407.02 L1618.93,407.46 L1621,408.18 L1623.24,407.79 L1623.8,407.44 L1626.5,411.85 L1627.55,411.72 L1629.7,409.58 L1631.85,410.31 L1634,410.49 L1636.1,409.75 L1638.8,416.08 L1640.47,413.46 L1642.9,407.99 L1644.78,410.32 L1646.93,410.16 L1648.4,411.01 L1649.09,410.56 L1651.1,410.11 L1653.39,410.96 L1655.55,410.54 L1656.6,411.35 L1659.86,409.82 L1662.1,408.03 L1664.16,409.79 L1666.2,412.09 L1668.47,411.49 L1670.63,408.63 L1672.78,409.07 L1674.4,408.33 L1677.1,413.54 L1681.2,410.01 L1682.6,372.94 L1685.7,367.22 L1687.86,366.02 L1688.1,365.62 L1689.4,376.36 L1692.2,371.11 L1694.2,377.54 L1697.6,398.02 L1698.63,395.8 L1700.4,393.73 L1700.78,394.64 L1702.94,397.11 L1704.5,399.47 L1707.24,395.48 L1708.6,393.91 L1709.4,395.89 L1711.55,399.95 L1714.1,403.72 L1715.86,399.94 L1716.8,398.77 L1718.01,398.51 L1720.17,395.59 L1720.9,394.95 L1722.32,398.95 L1725,404.78 L1726.63,403.61 L1728.78,403.53 L1733.2,399.35 L1735.25,406.14 L1736,407.73 L1738.7,395.22 L1741.4,406.31 L1743.5,391.8 L1743.86,393.36 L1746.02,399.33 L1748.3,409.14 L1751.7,394.44 L1756.5,425.2 L1758.94,425.2 L1758.94,425.2 Z" fill="#7b1f45"/>
<path d="M1368.6,68 L1373,113 L1377.4,68 Z" fill="#f6f2b8"/>
<polyline points="1368.9,68 1373,114 1377.2,68" fill="none" stroke="#5a8cab" stroke-width="1.6"/>
<path d="M1036.5,368 L1038.5,363 L1040.5,368 Z" fill="#534c92"/>
<path d="M1115,356 L1117,351.5 L1119.5,356 Z" fill="#534c92"/>
<line x1="1050.27" y1="68.7" x2="1050.27" y2="425.2" stroke="#c8c8c8" stroke-opacity="0.4" stroke-width="1.1" stroke-dasharray="4.2 3"/>
<line x1="1114.89" y1="68.7" x2="1114.89" y2="425.2" stroke="#c8c8c8" stroke-opacity="0.4" stroke-width="1.1" stroke-dasharray="4.2 3"/>
<line x1="1181.67" y1="68.7" x2="1181.67" y2="425.2" stroke="#c8c8c8" stroke-opacity="0.4" stroke-width="1.1" stroke-dasharray="4.2 3"/>
<line x1="1248.44" y1="68.7" x2="1248.44" y2="425.2" stroke="#c8c8c8" stroke-opacity="0.4" stroke-width="1.1" stroke-dasharray="4.2 3"/>
<line x1="1313.06" y1="68.7" x2="1313.06" y2="425.2" stroke="#c8c8c8" stroke-opacity="0.4" stroke-width="1.1" stroke-dasharray="4.2 3"/>
<line x1="1379.84" y1="68.7" x2="1379.84" y2="425.2" stroke="#c8c8c8" stroke-opacity="0.4" stroke-width="1.1" stroke-dasharray="4.2 3"/>
<line x1="1444.46" y1="68.7" x2="1444.46" y2="425.2" stroke="#c8c8c8" stroke-opacity="0.4" stroke-width="1.1" stroke-dasharray="4.2 3"/>
<line x1="1511.23" y1="68.7" x2="1511.23" y2="425.2" stroke="#c8c8c8" stroke-opacity="0.4" stroke-width="1.1" stroke-dasharray="4.2 3"/>
<line x1="1578" y1="68.7" x2="1578" y2="425.2" stroke="#c8c8c8" stroke-opacity="0.4" stroke-width="1.1" stroke-dasharray="4.2 3"/>
<line x1="1638.32" y1="68.7" x2="1638.32" y2="425.2" stroke="#c8c8c8" stroke-opacity="0.4" stroke-width="1.1" stroke-dasharray="4.2 3"/>
<line x1="1705.09" y1="68.7" x2="1705.09" y2="425.2" stroke="#c8c8c8" stroke-opacity="0.4" stroke-width="1.1" stroke-dasharray="4.2 3"/>
<line x1="983.5" y1="323.3" x2="1767.0" y2="323.3" stroke="#c8c8c8" stroke-opacity="0.4" stroke-width="1.1" stroke-dasharray="4.2 3"/>
<line x1="983.5" y1="221.4" x2="1767.0" y2="221.4" stroke="#c8c8c8" stroke-opacity="0.4" stroke-width="1.1" stroke-dasharray="4.2 3"/>
<line x1="983.5" y1="119.5" x2="1767.0" y2="119.5" stroke="#c8c8c8" stroke-opacity="0.4" stroke-width="1.1" stroke-dasharray="4.2 3"/>
<line x1="987.81" y1="425.2" x2="987.81" y2="421.5" stroke="#3a3a3a" stroke-width="1.2"/>
<line x1="1002.89" y1="425.2" x2="1002.89" y2="421.5" stroke="#3a3a3a" stroke-width="1.2"/>
<line x1="1017.96" y1="425.2" x2="1017.96" y2="421.5" stroke="#3a3a3a" stroke-width="1.2"/>
<line x1="1033.04" y1="425.2" x2="1033.04" y2="421.5" stroke="#3a3a3a" stroke-width="1.2"/>
<line x1="1048.12" y1="425.2" x2="1048.12" y2="421.5" stroke="#3a3a3a" stroke-width="1.2"/>
<line x1="1063.2" y1="425.2" x2="1063.2" y2="421.5" stroke="#3a3a3a" stroke-width="1.2"/>
<line x1="1078.28" y1="425.2" x2="1078.28" y2="421.5" stroke="#3a3a3a" stroke-width="1.2"/>
<line x1="1093.35" y1="425.2" x2="1093.35" y2="421.5" stroke="#3a3a3a" stroke-width="1.2"/>
<line x1="1108.43" y1="425.2" x2="1108.43" y2="421.5" stroke="#3a3a3a" stroke-width="1.2"/>
<line x1="1123.51" y1="425.2" x2="1123.51" y2="421.5" stroke="#3a3a3a" stroke-width="1.2"/>
<line x1="1138.59" y1="425.2" x2="1138.59" y2="421.5" stroke="#3a3a3a" stroke-width="1.2"/>
<line x1="1153.67" y1="425.2" x2="1153.67" y2="421.5" stroke="#3a3a3a" stroke-width="1.2"/>
<line x1="1168.74" y1="425.2" x2="1168.74" y2="421.5" stroke="#3a3a3a" stroke-width="1.2"/>
<line x1="1183.82" y1="425.2" x2="1183.82" y2="421.5" stroke="#3a3a3a" stroke-width="1.2"/>
<line x1="1198.9" y1="425.2" x2="1198.9" y2="421.5" stroke="#3a3a3a" stroke-width="1.2"/>
<line x1="1213.98" y1="425.2" x2="1213.98" y2="421.5" stroke="#3a3a3a" stroke-width="1.2"/>
<line x1="1229.06" y1="425.2" x2="1229.06" y2="421.5" stroke="#3a3a3a" stroke-width="1.2"/>
<line x1="1244.13" y1="425.2" x2="1244.13" y2="421.5" stroke="#3a3a3a" stroke-width="1.2"/>
<line x1="1259.21" y1="425.2" x2="1259.21" y2="421.5" stroke="#3a3a3a" stroke-width="1.2"/>
<line x1="1274.29" y1="425.2" x2="1274.29" y2="421.5" stroke="#3a3a3a" stroke-width="1.2"/>
<line x1="1289.37" y1="425.2" x2="1289.37" y2="421.5" stroke="#3a3a3a" stroke-width="1.2"/>
<line x1="1304.45" y1="425.2" x2="1304.45" y2="421.5" stroke="#3a3a3a" stroke-width="1.2"/>
<line x1="1319.52" y1="425.2" x2="1319.52" y2="421.5" stroke="#3a3a3a" stroke-width="1.2"/>
<line x1="1334.6" y1="425.2" x2="1334.6" y2="421.5" stroke="#3a3a3a" stroke-width="1.2"/>
<line x1="1349.68" y1="425.2" x2="1349.68" y2="421.5" stroke="#3a3a3a" stroke-width="1.2"/>
<line x1="1364.76" y1="425.2" x2="1364.76" y2="421.5" stroke="#3a3a3a" stroke-width="1.2"/>
<line x1="1379.84" y1="425.2" x2="1379.84" y2="421.5" stroke="#3a3a3a" stroke-width="1.2"/>
<line x1="1394.91" y1="425.2" x2="1394.91" y2="421.5" stroke="#3a3a3a" stroke-width="1.2"/>
<line x1="1409.99" y1="425.2" x2="1409.99" y2="421.5" stroke="#3a3a3a" stroke-width="1.2"/>
<line x1="1425.07" y1="425.2" x2="1425.07" y2="421.5" stroke="#3a3a3a" stroke-width="1.2"/>
<line x1="1440.15" y1="425.2" x2="1440.15" y2="421.5" stroke="#3a3a3a" stroke-width="1.2"/>
<line x1="1455.23" y1="425.2" x2="1455.23" y2="421.5" stroke="#3a3a3a" stroke-width="1.2"/>
<line x1="1470.3" y1="425.2" x2="1470.3" y2="421.5" stroke="#3a3a3a" stroke-width="1.2"/>
<line x1="1485.38" y1="425.2" x2="1485.38" y2="421.5" stroke="#3a3a3a" stroke-width="1.2"/>
<line x1="1500.46" y1="425.2" x2="1500.46" y2="421.5" stroke="#3a3a3a" stroke-width="1.2"/>
<line x1="1515.54" y1="425.2" x2="1515.54" y2="421.5" stroke="#3a3a3a" stroke-width="1.2"/>
<line x1="1530.62" y1="425.2" x2="1530.62" y2="421.5" stroke="#3a3a3a" stroke-width="1.2"/>
<line x1="1545.69" y1="425.2" x2="1545.69" y2="421.5" stroke="#3a3a3a" stroke-width="1.2"/>
<line x1="1560.77" y1="425.2" x2="1560.77" y2="421.5" stroke="#3a3a3a" stroke-width="1.2"/>
<line x1="1575.85" y1="425.2" x2="1575.85" y2="421.5" stroke="#3a3a3a" stroke-width="1.2"/>
<line x1="1590.93" y1="425.2" x2="1590.93" y2="421.5" stroke="#3a3a3a" stroke-width="1.2"/>
<line x1="1606.01" y1="425.2" x2="1606.01" y2="421.5" stroke="#3a3a3a" stroke-width="1.2"/>
<line x1="1621.08" y1="425.2" x2="1621.08" y2="421.5" stroke="#3a3a3a" stroke-width="1.2"/>
<line x1="1636.16" y1="425.2" x2="1636.16" y2="421.5" stroke="#3a3a3a" stroke-width="1.2"/>
<line x1="1651.24" y1="425.2" x2="1651.24" y2="421.5" stroke="#3a3a3a" stroke-width="1.2"/>
<line x1="1666.32" y1="425.2" x2="1666.32" y2="421.5" stroke="#3a3a3a" stroke-width="1.2"/>
<line x1="1681.4" y1="425.2" x2="1681.4" y2="421.5" stroke="#3a3a3a" stroke-width="1.2"/>
<line x1="1696.47" y1="425.2" x2="1696.47" y2="421.5" stroke="#3a3a3a" stroke-width="1.2"/>
<line x1="1711.55" y1="425.2" x2="1711.55" y2="421.5" stroke="#3a3a3a" stroke-width="1.2"/>
<line x1="1726.63" y1="425.2" x2="1726.63" y2="421.5" stroke="#3a3a3a" stroke-width="1.2"/>
<line x1="1741.71" y1="425.2" x2="1741.71" y2="421.5" stroke="#3a3a3a" stroke-width="1.2"/>
<line x1="1756.79" y1="425.2" x2="1756.79" y2="421.5" stroke="#3a3a3a" stroke-width="1.2"/>
<line x1="983.5" y1="425.2" x2="983.5" y2="419.2" stroke="#3a3a3a" stroke-width="1.4"/>
<line x1="1050.27" y1="425.2" x2="1050.27" y2="419.2" stroke="#3a3a3a" stroke-width="1.4"/>
<line x1="1114.89" y1="425.2" x2="1114.89" y2="419.2" stroke="#3a3a3a" stroke-width="1.4"/>
<line x1="1181.67" y1="425.2" x2="1181.67" y2="419.2" stroke="#3a3a3a" stroke-width="1.4"/>
<line x1="1248.44" y1="425.2" x2="1248.44" y2="419.2" stroke="#3a3a3a" stroke-width="1.4"/>
<line x1="1313.06" y1="425.2" x2="1313.06" y2="419.2" stroke="#3a3a3a" stroke-width="1.4"/>
<line x1="1379.84" y1="425.2" x2="1379.84" y2="419.2" stroke="#3a3a3a" stroke-width="1.4"/>
<line x1="1444.46" y1="425.2" x2="1444.46" y2="419.2" stroke="#3a3a3a" stroke-width="1.4"/>
<line x1="1511.23" y1="425.2" x2="1511.23" y2="419.2" stroke="#3a3a3a" stroke-width="1.4"/>
<line x1="1578" y1="425.2" x2="1578" y2="419.2" stroke="#3a3a3a" stroke-width="1.4"/>
<line x1="1638.32" y1="425.2" x2="1638.32" y2="419.2" stroke="#3a3a3a" stroke-width="1.4"/>
<line x1="1705.09" y1="425.2" x2="1705.09" y2="419.2" stroke="#3a3a3a" stroke-width="1.4"/>
<polyline points="991.4,425.2 992.3,254.6 993.2,425.2 995.5,425.2 996.4,259.6 997.3,425.2 1000.9,425.2 1001.5,40 1007.9,40 1009.2,297.5 1013.8,254.1 1016.5,268 1019.2,299.3 1021,330 1023.3,349.8 1026.3,361.9 1028.6,336 1030.9,380.2 1033.2,333 1036.2,357.4 1039,362 1041.5,359.6 1043.8,368 1046,346.7 1048.3,369.5 1050.6,351.3 1054.4,345.2 1057.4,360.4 1060.5,372.6 1062.8,358.1 1065.1,372.6 1067.3,345.2 1071.1,360.4 1074.2,353.6 1076.5,389.3 1080.3,371 1083.3,380.2 1087.1,326.6 1089.4,375.6 1091,363.4 1093.2,400 1095.5,340 1097.7,365 1100,362.7 1103,400 1106.1,346.7 1108.4,365.7 1110.7,331.5 1113.7,339.1 1116,354.3 1118.3,347.5 1121.3,343.7 1123.6,363.4 1126.6,320 1129.7,285.6 1132,308.4 1135,277.2 1138,280.3 1141,308.4 1144.9,337.3 1149.4,300.8 1153,340 1155.5,425.2 1224.6,425.2 1225.4,425.2 1226.8,117.4 1230.4,162.5 1232.3,164 1235,222.7 1237.8,139.2 1239.7,180.3 1241.9,99.6 1244.6,194 1246.5,174.8 1248.7,215.8 1250.6,162.5 1252.3,215.8 1254.2,172 1256.4,218.6 1259.1,117.4 1261,142 1263.8,142 1267.9,207.6 1272,155.6 1274.7,172 1277.4,168 1280.7,144.7 1283.5,221.3 1285.6,202 1287.8,221.3 1291,174.6 1293.2,193.8 1295.4,171.9 1297.9,243 1300,176 1302.8,193.8 1304.7,223.9 1306.9,206 1308.5,225 1311,192.4 1313.7,259.4 1316.5,245.7 1319.2,296.3 1321.9,248.5 1325.5,184.2 1330.1,262.1 1332,193.8 1334.2,270.4 1336.4,181.5 1339.7,253.9 1343,200.6 1345.2,203.3 1348.5,237.5 1351.5,207.4 1353.9,240.3 1356.1,248.5 1356.9,425.2 1757,425.2" fill="none" stroke="#1c1c1c" stroke-width="2.4" stroke-linejoin="miter" stroke-miterlimit="2.5"/>
</g>
<line x1="983.5" y1="425.2" x2="990.5" y2="425.2" stroke="#3a3a3a" stroke-width="1.5"/>
<text x="977.8" y="436.1" font-size="26.5" fill="#404040" font-family="'DejaVu Sans', 'Liberation Sans', sans-serif" text-anchor="end">0</text>
<line x1="983.5" y1="323.3" x2="990.5" y2="323.3" stroke="#3a3a3a" stroke-width="1.5"/>
<text x="977.8" y="334.2" font-size="26.5" fill="#404040" font-family="'DejaVu Sans', 'Liberation Sans', sans-serif" text-anchor="end">50</text>
<line x1="983.5" y1="221.4" x2="990.5" y2="221.4" stroke="#3a3a3a" stroke-width="1.5"/>
<text x="977.8" y="232.3" font-size="26.5" fill="#404040" font-family="'DejaVu Sans', 'Liberation Sans', sans-serif" text-anchor="end">100</text>
<line x1="983.5" y1="119.5" x2="990.5" y2="119.5" stroke="#3a3a3a" stroke-width="1.5"/>
<text x="977.8" y="130.4" font-size="26.5" fill="#404040" font-family="'DejaVu Sans', 'Liberation Sans', sans-serif" text-anchor="end">150</text>
<rect x="983.5" y="68.7" width="783.5" height="356.5" fill="none" stroke="#2e2e2e" stroke-width="2"/>
<text transform="translate(913.6,404.6) rotate(-90)" font-size="27.5" fill="#404040" font-family="'DejaVu Sans', 'Liberation Sans', sans-serif" textLength="307.8" lengthAdjust="spacingAndGlyphs">Daily transfer (kbytes)</text>
<text x="977" y="33.1" font-size="36.5" fill="#000" font-family="'Liberation Sans', Arial, sans-serif" font-weight="bold">C</text>
<text x="1012.5" y="31.5" font-size="25.5" fill="#1f1d1e" font-family="'Liberation Sans', Arial, sans-serif" stroke="#1f1d1e" stroke-width="0.4" textLength="651.8" lengthAdjust="spacingAndGlyphs">Stacked daily data transfer from each node to the gateway</text>
<rect x="1458.4" y="79" width="298.5" height="151.7" rx="3" ry="3" fill="#fff" fill-opacity="0.85" stroke="#cccccc" stroke-width="1.2"/>
<rect x="1466.2" y="87.8" width="40" height="14" fill="#7b1f45"/>
<text x="1522.5" y="102.2" font-size="20" fill="#404040" font-family="'DejaVu Sans', 'Liberation Sans', sans-serif" textLength="63.5" lengthAdjust="spacingAndGlyphs">sw200</text>
<rect x="1466.2" y="117.3" width="40" height="14" fill="#c24f50"/>
<text x="1522.5" y="131.7" font-size="20" fill="#404040" font-family="'DejaVu Sans', 'Liberation Sans', sans-serif" textLength="63.5" lengthAdjust="spacingAndGlyphs">sw205</text>
<rect x="1466.2" y="146.7" width="40" height="14" fill="#dc8257"/>
<text x="1522.5" y="161.1" font-size="20" fill="#404040" font-family="'DejaVu Sans', 'Liberation Sans', sans-serif" textLength="63.5" lengthAdjust="spacingAndGlyphs">sw210</text>
<rect x="1466.2" y="176.1" width="40" height="14" fill="#eec67c"/>
<text x="1522.5" y="190.5" font-size="20" fill="#404040" font-family="'DejaVu Sans', 'Liberation Sans', sans-serif" textLength="63.5" lengthAdjust="spacingAndGlyphs">sw215</text>
<rect x="1466.2" y="205.5" width="40" height="14" fill="#f6f2b8"/>
<text x="1522.5" y="219.9" font-size="20" fill="#404040" font-family="'DejaVu Sans', 'Liberation Sans', sans-serif" textLength="63.5" lengthAdjust="spacingAndGlyphs">sw220</text>
<rect x="1627.7" y="87.8" width="40" height="14" fill="#d2e09c"/>
<text x="1684" y="102.2" font-size="20" fill="#404040" font-family="'DejaVu Sans', 'Liberation Sans', sans-serif" textLength="63.5" lengthAdjust="spacingAndGlyphs">sw225</text>
<rect x="1627.7" y="117.3" width="40" height="14" fill="#8fc29d"/>
<text x="1684" y="131.7" font-size="20" fill="#404040" font-family="'DejaVu Sans', 'Liberation Sans', sans-serif" textLength="63.5" lengthAdjust="spacingAndGlyphs">sw230</text>
<rect x="1627.7" y="146.7" width="40" height="14" fill="#5a8cab"/>
<text x="1684" y="161.1" font-size="20" fill="#404040" font-family="'DejaVu Sans', 'Liberation Sans', sans-serif" textLength="63.5" lengthAdjust="spacingAndGlyphs">sw240</text>
<rect x="1627.7" y="176.1" width="40" height="14" fill="#534c92"/>
<text x="1684" y="190.5" font-size="20" fill="#404040" font-family="'DejaVu Sans', 'Liberation Sans', sans-serif" textLength="63.5" lengthAdjust="spacingAndGlyphs">sw250</text>
<line x1="1627.7" y1="212.1" x2="1667.7" y2="212.1" stroke="#1c1c1c" stroke-width="2.2"/>
<text x="1682" y="219.9" font-size="20.5" fill="#404040" font-family="'DejaVu Sans', 'Liberation Sans', sans-serif" textLength="69.7" lengthAdjust="spacingAndGlyphs">4G out</text>
<text x="980.2" y="468.5" font-size="37" fill="#000" font-family="'Liberation Sans', Arial, sans-serif" font-weight="bold">D</text>
<text x="1016.5" y="466.5" font-size="25.5" fill="#1f1d1e" font-family="'Liberation Sans', Arial, sans-serif" stroke="#1f1d1e" stroke-width="0.4" textLength="305.1" lengthAdjust="spacingAndGlyphs">Battery level of three nodes</text>
<defs><clipPath id="clipD"><rect x="983.5" y="483.4" width="783.5" height="88.80000000000007"/></clipPath></defs>
<g clip-path="url(#clipD)">
<line x1="1050.27" y1="483.4" x2="1050.27" y2="572.2" stroke="#c8c8c8" stroke-width="1.1" stroke-dasharray="4.2 3"/>
<line x1="1114.89" y1="483.4" x2="1114.89" y2="572.2" stroke="#c8c8c8" stroke-width="1.1" stroke-dasharray="4.2 3"/>
<line x1="1181.67" y1="483.4" x2="1181.67" y2="572.2" stroke="#c8c8c8" stroke-width="1.1" stroke-dasharray="4.2 3"/>
<line x1="1248.44" y1="483.4" x2="1248.44" y2="572.2" stroke="#c8c8c8" stroke-width="1.1" stroke-dasharray="4.2 3"/>
<line x1="1313.06" y1="483.4" x2="1313.06" y2="572.2" stroke="#c8c8c8" stroke-width="1.1" stroke-dasharray="4.2 3"/>
<line x1="1379.84" y1="483.4" x2="1379.84" y2="572.2" stroke="#c8c8c8" stroke-width="1.1" stroke-dasharray="4.2 3"/>
<line x1="1444.46" y1="483.4" x2="1444.46" y2="572.2" stroke="#c8c8c8" stroke-width="1.1" stroke-dasharray="4.2 3"/>
<line x1="1511.23" y1="483.4" x2="1511.23" y2="572.2" stroke="#c8c8c8" stroke-width="1.1" stroke-dasharray="4.2 3"/>
<line x1="1578" y1="483.4" x2="1578" y2="572.2" stroke="#c8c8c8" stroke-width="1.1" stroke-dasharray="4.2 3"/>
<line x1="1638.32" y1="483.4" x2="1638.32" y2="572.2" stroke="#c8c8c8" stroke-width="1.1" stroke-dasharray="4.2 3"/>
<line x1="1705.09" y1="483.4" x2="1705.09" y2="572.2" stroke="#c8c8c8" stroke-width="1.1" stroke-dasharray="4.2 3"/>
<line x1="983.5" y1="491.5" x2="1767.0" y2="491.5" stroke="#c8c8c8" stroke-width="1.1" stroke-dasharray="4.2 3"/>
<line x1="984" y1="507" x2="984.6" y2="491.5" stroke="#1f2f3c" stroke-width="3.1"/>
<polyline points="994.3,490.9 1000.3,493.2" fill="none" stroke="#1f2f3c" stroke-width="3.1" stroke-linejoin="round"/>
<polyline points="993.8,496.6 996.8,498.3" fill="none" stroke="#1f2f3c" stroke-width="3.1" stroke-linejoin="round"/>
<polyline points="1012.7,490.9 1018.7,493.2" fill="none" stroke="#1f2f3c" stroke-width="3.1" stroke-linejoin="round"/>
<polyline points="1012.2,496.6 1015.2,498.3" fill="none" stroke="#1f2f3c" stroke-width="3.1" stroke-linejoin="round"/>
<polyline points="1031.1,490.9 1037.1,493.2" fill="none" stroke="#1f2f3c" stroke-width="3.1" stroke-linejoin="round"/>
<polyline points="1030.6,496.6 1033.6,498.3" fill="none" stroke="#1f2f3c" stroke-width="3.1" stroke-linejoin="round"/>
<polyline points="1049.5,490.9 1055.5,493.2" fill="none" stroke="#1f2f3c" stroke-width="3.1" stroke-linejoin="round"/>
<polyline points="1049,496.6 1052,498.3" fill="none" stroke="#1f2f3c" stroke-width="3.1" stroke-linejoin="round"/>
<polyline points="1067.9,490.9 1073.9,493.2" fill="none" stroke="#1f2f3c" stroke-width="3.1" stroke-linejoin="round"/>
<polyline points="1067.4,496.6 1070.4,498.3" fill="none" stroke="#1f2f3c" stroke-width="3.1" stroke-linejoin="round"/>
<polyline points="1086.3,490.9 1092.3,493.2" fill="none" stroke="#1f2f3c" stroke-width="3.1" stroke-linejoin="round"/>
<polyline points="1085.8,496.6 1088.8,498.3" fill="none" stroke="#1f2f3c" stroke-width="3.1" stroke-linejoin="round"/>
<polyline points="1104.7,490.9 1110.7,493.2" fill="none" stroke="#1f2f3c" stroke-width="3.1" stroke-linejoin="round"/>
<polyline points="1104.2,496.6 1107.2,498.3" fill="none" stroke="#1f2f3c" stroke-width="3.1" stroke-linejoin="round"/>
<polyline points="1123.1,490.9 1129.1,493.2" fill="none" stroke="#1f2f3c" stroke-width="3.1" stroke-linejoin="round"/>
<polyline points="1122.6,496.6 1125.6,498.3" fill="none" stroke="#1f2f3c" stroke-width="3.1" stroke-linejoin="round"/>
<polyline points="1141.5,490.9 1147.5,493.2" fill="none" stroke="#1f2f3c" stroke-width="3.1" stroke-linejoin="round"/>
<polyline points="1141,496.6 1144,498.3" fill="none" stroke="#1f2f3c" stroke-width="3.1" stroke-linejoin="round"/>
<polyline points="1159.9,490.9 1165.9,493.2" fill="none" stroke="#1f2f3c" stroke-width="3.1" stroke-linejoin="round"/>
<polyline points="1159.4,496.6 1162.4,498.3" fill="none" stroke="#1f2f3c" stroke-width="3.1" stroke-linejoin="round"/>
<polyline points="1178.3,490.9 1184.3,493.2" fill="none" stroke="#1f2f3c" stroke-width="3.1" stroke-linejoin="round"/>
<polyline points="1177.8,496.6 1180.8,498.3" fill="none" stroke="#1f2f3c" stroke-width="3.1" stroke-linejoin="round"/>
<polyline points="1196.7,490.9 1202.7,493.2" fill="none" stroke="#1f2f3c" stroke-width="3.1" stroke-linejoin="round"/>
<polyline points="1196.2,496.6 1199.2,498.3" fill="none" stroke="#1f2f3c" stroke-width="3.1" stroke-linejoin="round"/>
<polyline points="1215.1,490.9 1221.1,493.2" fill="none" stroke="#1f2f3c" stroke-width="3.1" stroke-linejoin="round"/>
<polyline points="1214.6,496.6 1217.6,498.3" fill="none" stroke="#1f2f3c" stroke-width="3.1" stroke-linejoin="round"/>
<polyline points="1233.5,490.9 1239.5,493.2" fill="none" stroke="#1f2f3c" stroke-width="3.1" stroke-linejoin="round"/>
<polyline points="1233,496.6 1236,498.3" fill="none" stroke="#1f2f3c" stroke-width="3.1" stroke-linejoin="round"/>
<polyline points="1228,492.2 1352.7,492.2 1370,498.6 1380,501.6 1398,509.2 1449,514.8 1494,518.2 1570,525 1603,527.8 1618,527.8 1641,529.1 1661,529.8 1670,529.1 1675.5,523.3 1682.7,514.7 1685,508.9 1685.6,501.7 1687,494.4 1690,493.7 1704.4,493.7 1711.6,494.4 1718.8,493 1740.5,491.6 1745,493 1747.7,496.6 1750.6,491.6 1768,492.3" fill="none" stroke="#1f2f3c" stroke-width="3.1" stroke-linejoin="round"/>
<polyline points="984.8,493.4 996.3,500" fill="none" stroke="#4f9b86" stroke-width="3.1" stroke-linejoin="round"/>
<polyline points="1003.2,493.4 1014.7,500" fill="none" stroke="#4f9b86" stroke-width="3.1" stroke-linejoin="round"/>
<polyline points="1021.6,493.4 1033.1,500" fill="none" stroke="#4f9b86" stroke-width="3.1" stroke-linejoin="round"/>
<polyline points="1040,493.4 1051.5,500" fill="none" stroke="#4f9b86" stroke-width="3.1" stroke-linejoin="round"/>
<polyline points="1058.4,493.4 1069.9,500" fill="none" stroke="#4f9b86" stroke-width="3.1" stroke-linejoin="round"/>
<polyline points="1076.8,493.4 1088.3,500" fill="none" stroke="#4f9b86" stroke-width="3.1" stroke-linejoin="round"/>
<polyline points="1095.2,493.4 1106.7,500" fill="none" stroke="#4f9b86" stroke-width="3.1" stroke-linejoin="round"/>
<polyline points="1113.6,493.4 1125.1,500" fill="none" stroke="#4f9b86" stroke-width="3.1" stroke-linejoin="round"/>
<polyline points="1132,493.4 1143.5,500" fill="none" stroke="#4f9b86" stroke-width="3.1" stroke-linejoin="round"/>
<polyline points="1150.4,493.4 1161.9,500" fill="none" stroke="#4f9b86" stroke-width="3.1" stroke-linejoin="round"/>
<polyline points="1168.8,493.4 1180.3,500" fill="none" stroke="#4f9b86" stroke-width="3.1" stroke-linejoin="round"/>
<polyline points="1187.2,493.4 1198.7,500" fill="none" stroke="#4f9b86" stroke-width="3.1" stroke-linejoin="round"/>
<polyline points="1205.6,493.4 1217.1,500" fill="none" stroke="#4f9b86" stroke-width="3.1" stroke-linejoin="round"/>
<polyline points="1224,493.4 1233,498.57" fill="none" stroke="#4f9b86" stroke-width="3.1" stroke-linejoin="round"/>
<polyline points="1233,494.8 1306,494.8 1308,492.6 1330,492.6 1340,494.5 1352.7,495.5 1370,504.8 1381,511.6 1398,513.3 1449,519 1511,525.1 1560,529.8 1589,532.7 1615,535.6 1632,534.2 1647,531.3 1661,528.4 1664,526.2 1664.7,511 1667,510.3 1675.5,513.2 1690,513.9 1704.4,514.7 1711.6,513.2 1720.3,510.3 1721.7,494.4 1723,493 1768,493" fill="none" stroke="#4f9b86" stroke-width="3.1" stroke-linejoin="round"/>
<polyline points="983.5,491.2 982.3,490.9 994.8,494.6 1000.7,490.9 1013.2,494.6 1019.1,490.9 1031.6,494.6 1037.5,490.9 1050,494.6 1055.9,490.9 1068.4,494.6 1074.3,490.9 1086.8,494.6 1092.7,490.9 1105.2,494.6 1111.1,490.9 1123.6,494.6 1129.5,490.9 1142,494.6 1147.9,490.9 1160.4,494.6 1166.3,490.9 1178.8,494.6 1184.7,490.9 1197.2,494.6 1203.1,490.9 1215.6,494.6 1221.5,490.9 1234,494.6 1233,491.6 1352.7,491.6 1370,499.8 1380,502.8 1398,510.5 1449,516.1 1494,519.5 1570,526.3 1603,529.1 1628,527.7 1632,526 1633.6,523.3 1634.4,516.8 1635.8,526.2 1637,524 1638,516 1639.4,523.3 1642,520 1643.8,516 1645.2,507.4 1648,508.9 1652.4,506 1654.6,501 1656.8,507.4 1659.6,504.5 1661,498.8 1663.2,491.6 1665.4,497.3 1674,498 1675.5,491.6 1768,492.3" fill="none" stroke="#d8b45e" stroke-width="3.1" stroke-linejoin="round"/>
<rect x="993.5" y="527.3" width="481.8" height="35.3" rx="3" ry="3" fill="#fff" fill-opacity="0.85" stroke="#cccccc" stroke-width="1.2"/>
<line x1="999.8" y1="543.5" x2="1043.8" y2="543.5" stroke="#1f2f3c" stroke-width="3.6"/>
<line x1="1168.6" y1="543.5" x2="1211.8" y2="543.5" stroke="#4f9b86" stroke-width="3.6"/>
<line x1="1337.4" y1="543.5" x2="1380.7" y2="543.5" stroke="#d8b45e" stroke-width="3.6"/>
<text x="1058.5" y="550.8" font-size="20" fill="#404040" font-family="'DejaVu Sans', 'Liberation Sans', sans-serif" textLength="71.2" lengthAdjust="spacingAndGlyphs">sw-200</text>
<text x="1226.6" y="550.8" font-size="20" fill="#404040" font-family="'DejaVu Sans', 'Liberation Sans', sans-serif" textLength="70.4" lengthAdjust="spacingAndGlyphs">sw-001</text>
<text x="1395.3" y="550.8" font-size="20" fill="#404040" font-family="'DejaVu Sans', 'Liberation Sans', sans-serif" textLength="71.2" lengthAdjust="spacingAndGlyphs">sw-240</text>
<line x1="987.81" y1="572.2" x2="987.81" y2="568.5" stroke="#3a3a3a" stroke-width="1.2"/>
<line x1="1002.89" y1="572.2" x2="1002.89" y2="568.5" stroke="#3a3a3a" stroke-width="1.2"/>
<line x1="1017.96" y1="572.2" x2="1017.96" y2="568.5" stroke="#3a3a3a" stroke-width="1.2"/>
<line x1="1033.04" y1="572.2" x2="1033.04" y2="568.5" stroke="#3a3a3a" stroke-width="1.2"/>
<line x1="1048.12" y1="572.2" x2="1048.12" y2="568.5" stroke="#3a3a3a" stroke-width="1.2"/>
<line x1="1063.2" y1="572.2" x2="1063.2" y2="568.5" stroke="#3a3a3a" stroke-width="1.2"/>
<line x1="1078.28" y1="572.2" x2="1078.28" y2="568.5" stroke="#3a3a3a" stroke-width="1.2"/>
<line x1="1093.35" y1="572.2" x2="1093.35" y2="568.5" stroke="#3a3a3a" stroke-width="1.2"/>
<line x1="1108.43" y1="572.2" x2="1108.43" y2="568.5" stroke="#3a3a3a" stroke-width="1.2"/>
<line x1="1123.51" y1="572.2" x2="1123.51" y2="568.5" stroke="#3a3a3a" stroke-width="1.2"/>
<line x1="1138.59" y1="572.2" x2="1138.59" y2="568.5" stroke="#3a3a3a" stroke-width="1.2"/>
<line x1="1153.67" y1="572.2" x2="1153.67" y2="568.5" stroke="#3a3a3a" stroke-width="1.2"/>
<line x1="1168.74" y1="572.2" x2="1168.74" y2="568.5" stroke="#3a3a3a" stroke-width="1.2"/>
<line x1="1183.82" y1="572.2" x2="1183.82" y2="568.5" stroke="#3a3a3a" stroke-width="1.2"/>
<line x1="1198.9" y1="572.2" x2="1198.9" y2="568.5" stroke="#3a3a3a" stroke-width="1.2"/>
<line x1="1213.98" y1="572.2" x2="1213.98" y2="568.5" stroke="#3a3a3a" stroke-width="1.2"/>
<line x1="1229.06" y1="572.2" x2="1229.06" y2="568.5" stroke="#3a3a3a" stroke-width="1.2"/>
<line x1="1244.13" y1="572.2" x2="1244.13" y2="568.5" stroke="#3a3a3a" stroke-width="1.2"/>
<line x1="1259.21" y1="572.2" x2="1259.21" y2="568.5" stroke="#3a3a3a" stroke-width="1.2"/>
<line x1="1274.29" y1="572.2" x2="1274.29" y2="568.5" stroke="#3a3a3a" stroke-width="1.2"/>
<line x1="1289.37" y1="572.2" x2="1289.37" y2="568.5" stroke="#3a3a3a" stroke-width="1.2"/>
<line x1="1304.45" y1="572.2" x2="1304.45" y2="568.5" stroke="#3a3a3a" stroke-width="1.2"/>
<line x1="1319.52" y1="572.2" x2="1319.52" y2="568.5" stroke="#3a3a3a" stroke-width="1.2"/>
<line x1="1334.6" y1="572.2" x2="1334.6" y2="568.5" stroke="#3a3a3a" stroke-width="1.2"/>
<line x1="1349.68" y1="572.2" x2="1349.68" y2="568.5" stroke="#3a3a3a" stroke-width="1.2"/>
<line x1="1364.76" y1="572.2" x2="1364.76" y2="568.5" stroke="#3a3a3a" stroke-width="1.2"/>
<line x1="1379.84" y1="572.2" x2="1379.84" y2="568.5" stroke="#3a3a3a" stroke-width="1.2"/>
<line x1="1394.91" y1="572.2" x2="1394.91" y2="568.5" stroke="#3a3a3a" stroke-width="1.2"/>
<line x1="1409.99" y1="572.2" x2="1409.99" y2="568.5" stroke="#3a3a3a" stroke-width="1.2"/>
<line x1="1425.07" y1="572.2" x2="1425.07" y2="568.5" stroke="#3a3a3a" stroke-width="1.2"/>
<line x1="1440.15" y1="572.2" x2="1440.15" y2="568.5" stroke="#3a3a3a" stroke-width="1.2"/>
<line x1="1455.23" y1="572.2" x2="1455.23" y2="568.5" stroke="#3a3a3a" stroke-width="1.2"/>
<line x1="1470.3" y1="572.2" x2="1470.3" y2="568.5" stroke="#3a3a3a" stroke-width="1.2"/>
<line x1="1485.38" y1="572.2" x2="1485.38" y2="568.5" stroke="#3a3a3a" stroke-width="1.2"/>
<line x1="1500.46" y1="572.2" x2="1500.46" y2="568.5" stroke="#3a3a3a" stroke-width="1.2"/>
<line x1="1515.54" y1="572.2" x2="1515.54" y2="568.5" stroke="#3a3a3a" stroke-width="1.2"/>
<line x1="1530.62" y1="572.2" x2="1530.62" y2="568.5" stroke="#3a3a3a" stroke-width="1.2"/>
<line x1="1545.69" y1="572.2" x2="1545.69" y2="568.5" stroke="#3a3a3a" stroke-width="1.2"/>
<line x1="1560.77" y1="572.2" x2="1560.77" y2="568.5" stroke="#3a3a3a" stroke-width="1.2"/>
<line x1="1575.85" y1="572.2" x2="1575.85" y2="568.5" stroke="#3a3a3a" stroke-width="1.2"/>
<line x1="1590.93" y1="572.2" x2="1590.93" y2="568.5" stroke="#3a3a3a" stroke-width="1.2"/>
<line x1="1606.01" y1="572.2" x2="1606.01" y2="568.5" stroke="#3a3a3a" stroke-width="1.2"/>
<line x1="1621.08" y1="572.2" x2="1621.08" y2="568.5" stroke="#3a3a3a" stroke-width="1.2"/>
<line x1="1636.16" y1="572.2" x2="1636.16" y2="568.5" stroke="#3a3a3a" stroke-width="1.2"/>
<line x1="1651.24" y1="572.2" x2="1651.24" y2="568.5" stroke="#3a3a3a" stroke-width="1.2"/>
<line x1="1666.32" y1="572.2" x2="1666.32" y2="568.5" stroke="#3a3a3a" stroke-width="1.2"/>
<line x1="1681.4" y1="572.2" x2="1681.4" y2="568.5" stroke="#3a3a3a" stroke-width="1.2"/>
<line x1="1696.47" y1="572.2" x2="1696.47" y2="568.5" stroke="#3a3a3a" stroke-width="1.2"/>
<line x1="1711.55" y1="572.2" x2="1711.55" y2="568.5" stroke="#3a3a3a" stroke-width="1.2"/>
<line x1="1726.63" y1="572.2" x2="1726.63" y2="568.5" stroke="#3a3a3a" stroke-width="1.2"/>
<line x1="1741.71" y1="572.2" x2="1741.71" y2="568.5" stroke="#3a3a3a" stroke-width="1.2"/>
<line x1="1756.79" y1="572.2" x2="1756.79" y2="568.5" stroke="#3a3a3a" stroke-width="1.2"/>
<line x1="983.5" y1="572.2" x2="983.5" y2="566.2" stroke="#3a3a3a" stroke-width="1.4"/>
<line x1="1050.27" y1="572.2" x2="1050.27" y2="566.2" stroke="#3a3a3a" stroke-width="1.4"/>
<line x1="1114.89" y1="572.2" x2="1114.89" y2="566.2" stroke="#3a3a3a" stroke-width="1.4"/>
<line x1="1181.67" y1="572.2" x2="1181.67" y2="566.2" stroke="#3a3a3a" stroke-width="1.4"/>
<line x1="1248.44" y1="572.2" x2="1248.44" y2="566.2" stroke="#3a3a3a" stroke-width="1.4"/>
<line x1="1313.06" y1="572.2" x2="1313.06" y2="566.2" stroke="#3a3a3a" stroke-width="1.4"/>
<line x1="1379.84" y1="572.2" x2="1379.84" y2="566.2" stroke="#3a3a3a" stroke-width="1.4"/>
<line x1="1444.46" y1="572.2" x2="1444.46" y2="566.2" stroke="#3a3a3a" stroke-width="1.4"/>
<line x1="1511.23" y1="572.2" x2="1511.23" y2="566.2" stroke="#3a3a3a" stroke-width="1.4"/>
<line x1="1578" y1="572.2" x2="1578" y2="566.2" stroke="#3a3a3a" stroke-width="1.4"/>
<line x1="1638.32" y1="572.2" x2="1638.32" y2="566.2" stroke="#3a3a3a" stroke-width="1.4"/>
<line x1="1705.09" y1="572.2" x2="1705.09" y2="566.2" stroke="#3a3a3a" stroke-width="1.4"/>
</g>
<line x1="983.5" y1="572.2" x2="990.5" y2="572.2" stroke="#3a3a3a" stroke-width="1.5"/>
<text x="977.6" y="582.8" font-size="26.5" fill="#404040" font-family="'DejaVu Sans', 'Liberation Sans', sans-serif" text-anchor="end">0</text>
<line x1="983.5" y1="491.5" x2="990.5" y2="491.5" stroke="#3a3a3a" stroke-width="1.5"/>
<text x="977.6" y="502.1" font-size="26.5" fill="#404040" font-family="'DejaVu Sans', 'Liberation Sans', sans-serif" text-anchor="end">100</text>
<rect x="983.5" y="483.4" width="783.5" height="88.80000000000007" fill="none" stroke="#2e2e2e" stroke-width="2"/>
<text transform="translate(913.6,608.3) rotate(-90)" font-size="27.5" fill="#404040" font-family="'DejaVu Sans', 'Liberation Sans', sans-serif" textLength="161.8" lengthAdjust="spacingAndGlyphs">Battery (%)</text>
<text transform="translate(980.2,598.3) rotate(-30)" font-size="24.5" fill="#404040" font-family="'DejaVu Sans', 'Liberation Sans', sans-serif" text-anchor="end">May</text>
<text transform="translate(1046.97,598.3) rotate(-30)" font-size="24.5" fill="#404040" font-family="'DejaVu Sans', 'Liberation Sans', sans-serif" text-anchor="end">Jun</text>
<text transform="translate(1111.59,598.3) rotate(-30)" font-size="24.5" fill="#404040" font-family="'DejaVu Sans', 'Liberation Sans', sans-serif" text-anchor="end">Jul</text>
<text transform="translate(1178.37,598.3) rotate(-30)" font-size="24.5" fill="#404040" font-family="'DejaVu Sans', 'Liberation Sans', sans-serif" text-anchor="end">Aug</text>
<text transform="translate(1245.14,598.3) rotate(-30)" font-size="24.5" fill="#404040" font-family="'DejaVu Sans', 'Liberation Sans', sans-serif" text-anchor="end">Sep</text>
<text transform="translate(1309.76,598.3) rotate(-30)" font-size="24.5" fill="#404040" font-family="'DejaVu Sans', 'Liberation Sans', sans-serif" text-anchor="end">Oct</text>
<text transform="translate(1376.54,598.3) rotate(-30)" font-size="24.5" fill="#404040" font-family="'DejaVu Sans', 'Liberation Sans', sans-serif" text-anchor="end">Nov</text>
<text transform="translate(1441.16,598.3) rotate(-30)" font-size="24.5" fill="#404040" font-family="'DejaVu Sans', 'Liberation Sans', sans-serif" text-anchor="end">Dec</text>
<text transform="translate(1494.43,598.3) rotate(-30)" font-size="24.5" fill="#404040" font-family="'DejaVu Sans', 'Liberation Sans', sans-serif" text-anchor="end">Jan</text>
<text transform="translate(1508.93,623.3) rotate(-30)" font-size="24.5" fill="#404040" font-family="'DejaVu Sans', 'Liberation Sans', sans-serif" text-anchor="end">2022</text>
<text transform="translate(1574.7,598.3) rotate(-30)" font-size="24.5" fill="#404040" font-family="'DejaVu Sans', 'Liberation Sans', sans-serif" text-anchor="end">Feb</text>
<text transform="translate(1635.02,598.3) rotate(-30)" font-size="24.5" fill="#404040" font-family="'DejaVu Sans', 'Liberation Sans', sans-serif" text-anchor="end">Mar</text>
<text transform="translate(1701.79,598.3) rotate(-30)" font-size="24.5" fill="#404040" font-family="'DejaVu Sans', 'Liberation Sans', sans-serif" text-anchor="end">Apr</text>
</svg>
</body></html>
